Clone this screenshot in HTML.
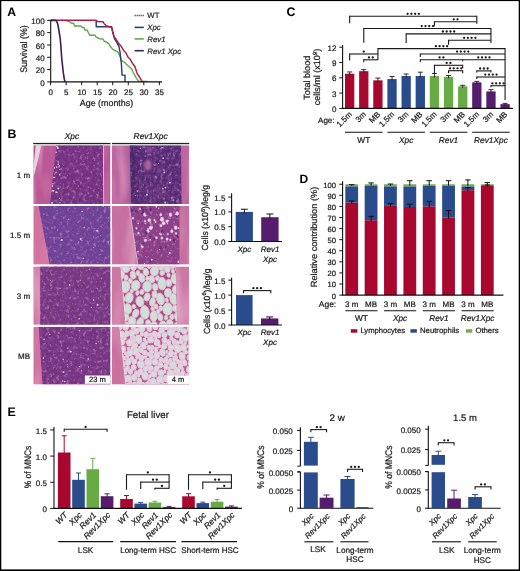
<!DOCTYPE html>
<html><head><meta charset="utf-8"><style>
html,body{margin:0;padding:0;background:#fff;}
body{width:520px;height:571px;overflow:hidden;}
svg{display:block;font-family:"Liberation Sans", sans-serif;text-rendering:geometricPrecision;will-change:transform;}
</style></head><body>
<svg width="520" height="571" viewBox="0 0 520 571" font-family='"Liberation Sans", sans-serif'>
<defs><clipPath id="c00"><rect x="33.3" y="145.3" width="77.2" height="58.7"/></clipPath><clipPath id="c10"><rect x="112" y="145.3" width="77.2" height="58.7"/></clipPath><clipPath id="c01"><rect x="33.3" y="206" width="77.2" height="58.6"/></clipPath><clipPath id="c11"><rect x="112" y="206" width="77.2" height="58.6"/></clipPath><clipPath id="c02"><rect x="33.3" y="266.5" width="77.2" height="58.3"/></clipPath><clipPath id="c12"><rect x="112" y="266.5" width="77.2" height="58.3"/></clipPath><clipPath id="c03"><rect x="33.3" y="326.8" width="77.2" height="57.8"/></clipPath><clipPath id="c13"><rect x="112" y="326.8" width="77.2" height="57.8"/></clipPath><filter id="nd" x="0" y="0" width="100%" height="100%" filterUnits="userSpaceOnUse"><feTurbulence type="fractalNoise" baseFrequency="0.28" numOctaves="2" seed="3" result="n"/><feColorMatrix in="n" type="matrix" values="0 0 0 0 0.216 0 0 0 0 0.059 0 0 0 0 0.314 2.3 0 0 0 -0.98"/></filter><filter id="nl" x="0" y="0" width="100%" height="100%" filterUnits="userSpaceOnUse"><feTurbulence type="fractalNoise" baseFrequency="0.3" numOctaves="2" seed="9" result="n"/><feColorMatrix in="n" type="matrix" values="0 0 0 0 0.667 0 0 0 0 0.412 0 0 0 0 0.725 1.8 0 0 0 -0.99"/></filter><filter id="nw" x="0" y="0" width="100%" height="100%" filterUnits="userSpaceOnUse"><feTurbulence type="fractalNoise" baseFrequency="0.4" numOctaves="2" seed="21" result="n"/><feColorMatrix in="n" type="matrix" values="0 0 0 0 0.941 0 0 0 0 0.882 0 0 0 0 0.941 6.0 0 0 0 -4.7"/></filter><filter id="bs" x="0" y="0" width="100%" height="100%" filterUnits="userSpaceOnUse"><feTurbulence type="fractalNoise" baseFrequency="0.08 0.015" numOctaves="2" seed="4" result="n"/><feColorMatrix in="n" type="matrix" values="0 0 0 0 0.910 0 0 0 0 0.588 0 0 0 0 0.753 1.3 0 0 0 -0.62"/></filter><filter id="bd" x="0" y="0" width="100%" height="100%" filterUnits="userSpaceOnUse"><feTurbulence type="fractalNoise" baseFrequency="0.08 0.02" numOctaves="2" seed="8" result="n"/><feColorMatrix in="n" type="matrix" values="0 0 0 0 0.706 0 0 0 0 0.314 0 0 0 0 0.510 1.3 0 0 0 -0.62"/></filter><filter id="fm" x="0" y="0" width="100%" height="100%" filterUnits="userSpaceOnUse"><feTurbulence type="fractalNoise" baseFrequency="0.3" numOctaves="2" seed="13" result="n"/><feColorMatrix in="n" type="matrix" values="0 0 0 0 0.471 0 0 0 0 0.098 0 0 0 0 0.373 3.0 0 0 0 -1.25"/></filter><filter id="gb" x="-50%" y="-50%" width="200%" height="200%"><feGaussianBlur stdDeviation="1.3"/></filter><filter id="gb2" x="-50%" y="-50%" width="200%" height="200%"><feGaussianBlur stdDeviation="2.5"/></filter></defs><g clip-path="url(#c00)"><rect x="33.3" y="145.3" width="77.2" height="58.7" fill="#bb5896"/><rect x="33.3" y="145.3" width="77.2" height="58.7" filter="url(#bs)"/><rect x="33.3" y="145.3" width="77.2" height="58.7" filter="url(#bd)"/></g><g clip-path="url(#c00)"><polygon points="35.8,145.3 41.2,145.3 39.8,152 38.2,159 36,168 34.2,175 33.3,176 33.3,166 34.4,158" fill="#eadde6" opacity="0.92"/></g><g clip-path="url(#c00)"><clipPath id="c00m"><polygon points="56.4,145.3 103.3,145.3 103.6,204 50,204"/></clipPath><g clip-path="url(#c00m)"><rect x="48" y="145.3" width="57" height="58.7" fill="#74307c"/><rect x="48" y="145.3" width="57" height="58.7" filter="url(#nd)"/><rect x="48" y="145.3" width="57" height="58.7" filter="url(#nl)"/><rect x="48" y="145.3" width="57" height="58.7" filter="url(#nw)"/><circle cx="56.23" cy="192.12" r="0.97" fill="#f6eef6" opacity="0.8"/><circle cx="57.4" cy="147.68" r="0.71" fill="#f6eef6" opacity="0.8"/><circle cx="59.43" cy="198.25" r="0.51" fill="#f6eef6" opacity="0.8"/><circle cx="54.69" cy="177.54" r="0.77" fill="#f6eef6" opacity="0.8"/><circle cx="50.13" cy="162.21" r="0.95" fill="#f6eef6" opacity="0.8"/><circle cx="57.66" cy="192.23" r="0.53" fill="#f6eef6" opacity="0.8"/><circle cx="56.17" cy="146.1" r="0.93" fill="#f6eef6" opacity="0.8"/><circle cx="52.09" cy="202.98" r="0.93" fill="#f6eef6" opacity="0.8"/><circle cx="52.89" cy="177.27" r="0.82" fill="#f6eef6" opacity="0.8"/><circle cx="52.05" cy="186.06" r="0.98" fill="#f6eef6" opacity="0.8"/><circle cx="58.94" cy="166.95" r="0.54" fill="#f6eef6" opacity="0.8"/><circle cx="51.46" cy="163.48" r="0.78" fill="#f6eef6" opacity="0.8"/><circle cx="50.03" cy="165.6" r="0.62" fill="#f6eef6" opacity="0.8"/><circle cx="58.19" cy="164.32" r="0.71" fill="#f6eef6" opacity="0.8"/><circle cx="57.05" cy="202.56" r="0.46" fill="#f6eef6" opacity="0.8"/><circle cx="57.5" cy="147.05" r="0.88" fill="#f6eef6" opacity="0.8"/><circle cx="53.66" cy="146.53" r="0.48" fill="#f6eef6" opacity="0.8"/><circle cx="51.81" cy="157.4" r="0.87" fill="#f6eef6" opacity="0.8"/><circle cx="59.3" cy="165.97" r="0.65" fill="#f6eef6" opacity="0.8"/><circle cx="55.25" cy="152.27" r="0.86" fill="#f6eef6" opacity="0.8"/><circle cx="57.97" cy="148.12" r="0.97" fill="#f6eef6" opacity="0.8"/><circle cx="50.91" cy="181.43" r="0.95" fill="#f6eef6" opacity="0.8"/><circle cx="53.4" cy="177.62" r="0.62" fill="#f6eef6" opacity="0.8"/><circle cx="53.17" cy="150.54" r="0.53" fill="#f6eef6" opacity="0.8"/><circle cx="56.89" cy="155.37" r="0.48" fill="#f6eef6" opacity="0.8"/><circle cx="59.87" cy="169.54" r="0.58" fill="#f6eef6" opacity="0.8"/><circle cx="55.94" cy="172.43" r="0.68" fill="#f6eef6" opacity="0.8"/><circle cx="50.56" cy="147.9" r="0.72" fill="#f6eef6" opacity="0.8"/><circle cx="58.38" cy="188.44" r="0.97" fill="#f6eef6" opacity="0.8"/><circle cx="56.3" cy="152.18" r="0.69" fill="#f6eef6" opacity="0.8"/><circle cx="51.49" cy="163.1" r="0.7" fill="#f6eef6" opacity="0.8"/><circle cx="59.99" cy="202.61" r="0.7" fill="#f6eef6" opacity="0.8"/><circle cx="54.88" cy="173.78" r="0.61" fill="#f6eef6" opacity="0.8"/><circle cx="54.04" cy="167.87" r="0.99" fill="#f6eef6" opacity="0.8"/><circle cx="59.6" cy="174.96" r="0.64" fill="#f6eef6" opacity="0.8"/><circle cx="50.89" cy="191.36" r="0.93" fill="#f6eef6" opacity="0.8"/><circle cx="53.61" cy="190.94" r="0.83" fill="#f6eef6" opacity="0.8"/><circle cx="56.64" cy="167.08" r="0.84" fill="#f6eef6" opacity="0.8"/><circle cx="52.81" cy="190.65" r="0.83" fill="#f6eef6" opacity="0.8"/><circle cx="52.94" cy="183.68" r="0.77" fill="#f6eef6" opacity="0.8"/></g></g><g clip-path="url(#c00)"><line x1="103.4" y1="145.3" x2="103.7" y2="204.0" stroke="#efd2e6" stroke-width="0.8"/></g><g clip-path="url(#c10)"><rect x="112" y="145.3" width="77.2" height="58.7" fill="#bd66a0"/><rect x="112" y="145.3" width="77.2" height="58.7" filter="url(#bs)"/><rect x="112" y="145.3" width="77.2" height="58.7" filter="url(#bd)"/></g><g clip-path="url(#c10)"><clipPath id="c10m"><polygon points="129.7,145.3 181,145.3 181.5,204 131.3,204"/></clipPath><g clip-path="url(#c10m)"><rect x="128" y="145.3" width="54" height="58.7" fill="#552a70"/><rect x="128" y="145.3" width="54" height="58.7" filter="url(#nd)"/><rect x="128" y="145.3" width="54" height="58.7" filter="url(#nl)"/><rect x="128" y="145.3" width="54" height="58.7" filter="url(#nw)"/><circle cx="128.63" cy="177.41" r="0.59" fill="#f6eef6" opacity="0.8"/><circle cx="164.27" cy="172.47" r="0.9" fill="#f6eef6" opacity="0.8"/><circle cx="162.96" cy="192.12" r="0.64" fill="#f6eef6" opacity="0.8"/><circle cx="162.78" cy="188.61" r="0.91" fill="#f6eef6" opacity="0.8"/><circle cx="146.9" cy="194.78" r="0.93" fill="#f6eef6" opacity="0.8"/><circle cx="165.17" cy="202.6" r="0.98" fill="#f6eef6" opacity="0.8"/><circle cx="155.98" cy="176.37" r="0.54" fill="#f6eef6" opacity="0.8"/><circle cx="173.18" cy="200.32" r="0.71" fill="#f6eef6" opacity="0.8"/><circle cx="165.34" cy="187.55" r="0.85" fill="#f6eef6" opacity="0.8"/><circle cx="137.28" cy="191.11" r="0.77" fill="#f6eef6" opacity="0.8"/><circle cx="163.94" cy="170" r="0.79" fill="#f6eef6" opacity="0.8"/><circle cx="169.83" cy="182.68" r="0.85" fill="#f6eef6" opacity="0.8"/><circle cx="129.49" cy="154.69" r="0.69" fill="#f6eef6" opacity="0.8"/><circle cx="163.11" cy="158.16" r="0.83" fill="#f6eef6" opacity="0.8"/><circle cx="162.07" cy="147.76" r="0.71" fill="#f6eef6" opacity="0.8"/><circle cx="140.22" cy="148.48" r="0.52" fill="#f6eef6" opacity="0.8"/><circle cx="145.14" cy="155.96" r="0.56" fill="#f6eef6" opacity="0.8"/><circle cx="129.93" cy="172.61" r="0.66" fill="#f6eef6" opacity="0.8"/></g></g><g clip-path="url(#c10)"><g filter="url(#gb2)"><ellipse cx="160" cy="193" rx="7" ry="6" fill="#7a3f88" opacity="0.45"/><rect x="130" y="146" width="5" height="58" fill="#3c1f5c" opacity="0.55"/></g><g filter="url(#gb)"><ellipse cx="148" cy="165" rx="4.6" ry="6.8" fill="#3b1d55" opacity="0.7"/><ellipse cx="148" cy="165" rx="3.6" ry="5.6" fill="#b06aa2" opacity="0.9"/><ellipse cx="150" cy="150" rx="3" ry="2.5" fill="#a8609c" opacity="0.6"/></g></g><g clip-path="url(#c01)"><rect x="33.3" y="206" width="77.2" height="58.6" fill="#d2729f"/><rect x="33.3" y="206" width="77.2" height="58.6" filter="url(#bs)"/><rect x="33.3" y="206" width="77.2" height="58.6" filter="url(#bd)"/></g><g clip-path="url(#c01)"><clipPath id="c01m"><polygon points="38.7,206 110.5,206 110.5,264.6 49.7,264.6"/></clipPath><g clip-path="url(#c01m)"><rect x="37" y="206" width="73.5" height="58.6" fill="#6c4296"/><rect x="37" y="206" width="73.5" height="58.6" filter="url(#nd)"/><rect x="37" y="206" width="73.5" height="58.6" filter="url(#nl)"/><rect x="37" y="206" width="73.5" height="58.6" filter="url(#nw)"/><circle cx="81.97" cy="240.58" r="0.58" fill="#f6eef6" opacity="0.8"/><circle cx="103.38" cy="206.04" r="0.67" fill="#f6eef6" opacity="0.8"/><circle cx="57.47" cy="230.03" r="0.51" fill="#f6eef6" opacity="0.8"/><circle cx="98.11" cy="227.91" r="0.47" fill="#f6eef6" opacity="0.8"/><circle cx="82.1" cy="211.56" r="0.75" fill="#f6eef6" opacity="0.8"/><circle cx="61.94" cy="240.04" r="0.98" fill="#f6eef6" opacity="0.8"/><circle cx="97.16" cy="230.56" r="0.9" fill="#f6eef6" opacity="0.8"/><circle cx="84.21" cy="227.65" r="0.53" fill="#f6eef6" opacity="0.8"/><circle cx="80.8" cy="239.04" r="0.98" fill="#f6eef6" opacity="0.8"/><circle cx="108.15" cy="241.66" r="0.64" fill="#f6eef6" opacity="0.8"/><circle cx="102.67" cy="206.06" r="0.51" fill="#f6eef6" opacity="0.8"/><circle cx="78.59" cy="242.05" r="0.53" fill="#f6eef6" opacity="0.8"/><circle cx="83.27" cy="258.23" r="0.66" fill="#f6eef6" opacity="0.8"/><circle cx="68.73" cy="219.26" r="0.61" fill="#f6eef6" opacity="0.8"/></g></g><g clip-path="url(#c11)"><rect x="112" y="206" width="77.2" height="58.6" fill="#c7709f"/><rect x="112" y="206" width="77.2" height="58.6" filter="url(#bs)"/><rect x="112" y="206" width="77.2" height="58.6" filter="url(#bd)"/></g><g clip-path="url(#c11)"><clipPath id="c11m"><polygon points="129,206 179.4,206 179.4,264.6 137.6,264.6"/></clipPath><g clip-path="url(#c11m)"><rect x="128" y="206" width="52" height="58.6" fill="#8e3e82"/><rect x="128" y="206" width="52" height="58.6" filter="url(#nd)"/><rect x="128" y="206" width="52" height="58.6" filter="url(#nl)"/><rect x="128" y="206" width="52" height="58.6" filter="url(#nw)"/><circle cx="178.57" cy="228.26" r="0.98" fill="#f6eef6" opacity="0.8"/><circle cx="175.51" cy="240.91" r="0.59" fill="#f6eef6" opacity="0.8"/><circle cx="179.01" cy="235.08" r="0.68" fill="#f6eef6" opacity="0.8"/><circle cx="144.6" cy="263.68" r="0.72" fill="#f6eef6" opacity="0.8"/><circle cx="142.89" cy="233.95" r="0.52" fill="#f6eef6" opacity="0.8"/><circle cx="160.33" cy="231.99" r="0.61" fill="#f6eef6" opacity="0.8"/><circle cx="168.65" cy="254.45" r="0.46" fill="#f6eef6" opacity="0.8"/><circle cx="155.69" cy="222.04" r="0.96" fill="#f6eef6" opacity="0.8"/><circle cx="168.66" cy="220.4" r="0.6" fill="#f6eef6" opacity="0.8"/><circle cx="136.05" cy="263.95" r="0.61" fill="#f6eef6" opacity="0.8"/><circle cx="159.62" cy="233.81" r="0.8" fill="#f6eef6" opacity="0.8"/><circle cx="159.4" cy="249.57" r="0.51" fill="#f6eef6" opacity="0.8"/><circle cx="167.54" cy="223.62" r="0.74" fill="#f6eef6" opacity="0.8"/><circle cx="145.48" cy="223.39" r="0.74" fill="#f6eef6" opacity="0.8"/><circle cx="152.15" cy="227.16" r="0.86" fill="#f6eef6" opacity="0.8"/><circle cx="158.72" cy="208.13" r="0.59" fill="#f6eef6" opacity="0.8"/><circle cx="151.69" cy="259.71" r="0.94" fill="#f6eef6" opacity="0.8"/><circle cx="156.37" cy="206.85" r="0.88" fill="#f6eef6" opacity="0.8"/><circle cx="150.24" cy="239.73" r="0.84" fill="#f6eef6" opacity="0.8"/><circle cx="160.88" cy="234.24" r="0.95" fill="#f6eef6" opacity="0.8"/><circle cx="148.04" cy="228.96" r="0.92" fill="#f6eef6" opacity="0.8"/><circle cx="138.22" cy="223.37" r="0.91" fill="#f6eef6" opacity="0.8"/><circle cx="131.43" cy="255.01" r="0.83" fill="#f6eef6" opacity="0.8"/><circle cx="150.51" cy="222.78" r="0.88" fill="#f6eef6" opacity="0.8"/><circle cx="175.36" cy="214.36" r="0.71" fill="#f6eef6" opacity="0.8"/></g></g><g clip-path="url(#c11m)"><ellipse cx="156.48" cy="237.75" rx="1.16" ry="1.24" fill="#f2dcef" stroke="#d9a6cf" stroke-width="0.4"/><ellipse cx="170.31" cy="239.81" rx="0.88" ry="0.96" fill="#f2dcef" stroke="#d9a6cf" stroke-width="0.4"/><ellipse cx="169.83" cy="252.9" rx="0.83" ry="1.07" fill="#f2dcef" stroke="#d9a6cf" stroke-width="0.4"/><ellipse cx="178.43" cy="261.81" rx="0.85" ry="1.14" fill="#f2dcef" stroke="#d9a6cf" stroke-width="0.4"/><ellipse cx="162.01" cy="219.28" rx="1.85" ry="2.37" fill="#f2dcef" stroke="#d9a6cf" stroke-width="0.4"/><ellipse cx="145.07" cy="214.54" rx="1.81" ry="1.92" fill="#f2dcef" stroke="#d9a6cf" stroke-width="0.4"/><ellipse cx="136.52" cy="228.24" rx="0.86" ry="1.06" fill="#f2dcef" stroke="#d9a6cf" stroke-width="0.4"/><ellipse cx="147.79" cy="231.17" rx="1.46" ry="1.75" fill="#f2dcef" stroke="#d9a6cf" stroke-width="0.4"/><ellipse cx="142.32" cy="246.05" rx="1.36" ry="1.85" fill="#f2dcef" stroke="#d9a6cf" stroke-width="0.4"/><ellipse cx="161.9" cy="238.07" rx="1.09" ry="1.33" fill="#f2dcef" stroke="#d9a6cf" stroke-width="0.4"/><ellipse cx="166.96" cy="221.23" rx="1.37" ry="1.44" fill="#f2dcef" stroke="#d9a6cf" stroke-width="0.4"/><ellipse cx="149.31" cy="220.13" rx="1.61" ry="1.73" fill="#f2dcef" stroke="#d9a6cf" stroke-width="0.4"/><ellipse cx="145.4" cy="240.26" rx="1.33" ry="1.5" fill="#f2dcef" stroke="#d9a6cf" stroke-width="0.4"/><ellipse cx="137.92" cy="251.6" rx="0.86" ry="0.91" fill="#f2dcef" stroke="#d9a6cf" stroke-width="0.4"/><ellipse cx="177.21" cy="213.5" rx="1.53" ry="2.03" fill="#f2dcef" stroke="#d9a6cf" stroke-width="0.4"/><ellipse cx="160.79" cy="214.83" rx="1.19" ry="1.3" fill="#f2dcef" stroke="#d9a6cf" stroke-width="0.4"/><ellipse cx="160.88" cy="225.66" rx="1.18" ry="1.37" fill="#f2dcef" stroke="#d9a6cf" stroke-width="0.4"/><ellipse cx="170.52" cy="214.64" rx="1.51" ry="2" fill="#f2dcef" stroke="#d9a6cf" stroke-width="0.4"/><ellipse cx="171.85" cy="231.27" rx="1.37" ry="1.69" fill="#f2dcef" stroke="#d9a6cf" stroke-width="0.4"/><ellipse cx="167.16" cy="239.1" rx="1.24" ry="1.28" fill="#f2dcef" stroke="#d9a6cf" stroke-width="0.4"/><ellipse cx="140.15" cy="208.86" rx="0.84" ry="1.14" fill="#f2dcef" stroke="#d9a6cf" stroke-width="0.4"/><ellipse cx="167.86" cy="233.94" rx="0.8" ry="0.95" fill="#f2dcef" stroke="#d9a6cf" stroke-width="0.4"/><ellipse cx="138.41" cy="233.07" rx="0.97" ry="1.03" fill="#f2dcef" stroke="#d9a6cf" stroke-width="0.4"/><ellipse cx="150.69" cy="227.98" rx="1.77" ry="1.88" fill="#f2dcef" stroke="#d9a6cf" stroke-width="0.4"/><ellipse cx="145.07" cy="221.23" rx="0.98" ry="1.09" fill="#f2dcef" stroke="#d9a6cf" stroke-width="0.4"/><ellipse cx="154.46" cy="220.17" rx="0.84" ry="1.14" fill="#f2dcef" stroke="#d9a6cf" stroke-width="0.4"/><ellipse cx="175.69" cy="227.66" rx="1.56" ry="1.98" fill="#f2dcef" stroke="#d9a6cf" stroke-width="0.4"/><ellipse cx="176.07" cy="233.42" rx="0.93" ry="1.18" fill="#f2dcef" stroke="#d9a6cf" stroke-width="0.4"/><ellipse cx="163.54" cy="223.3" rx="1.6" ry="1.71" fill="#f2dcef" stroke="#d9a6cf" stroke-width="0.4"/><ellipse cx="132.96" cy="218.26" rx="1.05" ry="1.09" fill="#f2dcef" stroke="#d9a6cf" stroke-width="0.4"/><circle cx="150.45" cy="261.52" r="1.09" fill="#4a1d66" opacity="0.55"/><circle cx="146.34" cy="233.21" r="1.03" fill="#4a1d66" opacity="0.55"/><circle cx="165.69" cy="247.2" r="0.93" fill="#4a1d66" opacity="0.55"/><circle cx="143.06" cy="244.64" r="1.55" fill="#4a1d66" opacity="0.55"/><circle cx="161.71" cy="231.12" r="1.58" fill="#4a1d66" opacity="0.55"/><circle cx="132.29" cy="210.41" r="1.42" fill="#4a1d66" opacity="0.55"/><circle cx="150.87" cy="209.52" r="1.24" fill="#4a1d66" opacity="0.55"/><circle cx="177.52" cy="236.06" r="1.08" fill="#4a1d66" opacity="0.55"/><circle cx="136.32" cy="210.99" r="1.52" fill="#4a1d66" opacity="0.55"/><circle cx="154.59" cy="259.4" r="0.84" fill="#4a1d66" opacity="0.55"/><circle cx="143.2" cy="209.83" r="1.12" fill="#4a1d66" opacity="0.55"/><circle cx="134.77" cy="221.3" r="1.13" fill="#4a1d66" opacity="0.55"/><circle cx="146.07" cy="209.88" r="0.83" fill="#4a1d66" opacity="0.55"/><circle cx="176.69" cy="217.05" r="1.21" fill="#4a1d66" opacity="0.55"/><circle cx="150.51" cy="236.75" r="0.87" fill="#4a1d66" opacity="0.55"/><circle cx="146.44" cy="213.05" r="1.23" fill="#4a1d66" opacity="0.55"/><circle cx="174.38" cy="240.5" r="1.49" fill="#4a1d66" opacity="0.55"/><circle cx="141.86" cy="207.97" r="1.23" fill="#4a1d66" opacity="0.55"/><circle cx="154.38" cy="239" r="1.1" fill="#4a1d66" opacity="0.55"/><circle cx="160.75" cy="247.64" r="1.53" fill="#4a1d66" opacity="0.55"/><circle cx="146.15" cy="232.15" r="1.46" fill="#4a1d66" opacity="0.55"/><circle cx="142.3" cy="213.48" r="1.05" fill="#4a1d66" opacity="0.55"/><circle cx="136.03" cy="250.25" r="1.46" fill="#4a1d66" opacity="0.55"/><circle cx="146.39" cy="214.27" r="0.87" fill="#4a1d66" opacity="0.55"/><circle cx="143.26" cy="211.72" r="1.14" fill="#4a1d66" opacity="0.55"/></g><g clip-path="url(#c11)"><line x1="129.2" y1="206.0" x2="137.8" y2="264.6" stroke="#f1d9ea" stroke-width="0.7"/></g><g clip-path="url(#c02)"><rect x="33.3" y="266.5" width="77.2" height="58.3" fill="#d2769f"/><rect x="33.3" y="266.5" width="77.2" height="58.3" filter="url(#bs)"/><rect x="33.3" y="266.5" width="77.2" height="58.3" filter="url(#bd)"/></g><g clip-path="url(#c02)"><clipPath id="c02m"><polygon points="40.2,266.5 110.5,266.5 110.5,324.8 40.2,324.8"/></clipPath><g clip-path="url(#c02m)"><rect x="40" y="266.5" width="70.5" height="58.3" fill="#78367f"/><rect x="40" y="266.5" width="70.5" height="58.3" filter="url(#nd)"/><rect x="40" y="266.5" width="70.5" height="58.3" filter="url(#nl)"/><rect x="40" y="266.5" width="70.5" height="58.3" filter="url(#nw)"/><circle cx="80.68" cy="280.81" r="0.48" fill="#f6eef6" opacity="0.8"/><circle cx="89.39" cy="269.3" r="0.56" fill="#f6eef6" opacity="0.8"/><circle cx="60.16" cy="288.29" r="0.5" fill="#f6eef6" opacity="0.8"/><circle cx="69.65" cy="284.8" r="0.86" fill="#f6eef6" opacity="0.8"/><circle cx="79.2" cy="318.74" r="0.81" fill="#f6eef6" opacity="0.8"/><circle cx="93.56" cy="300.01" r="0.69" fill="#f6eef6" opacity="0.8"/><circle cx="97.58" cy="304.71" r="0.98" fill="#f6eef6" opacity="0.8"/><circle cx="91.33" cy="307.38" r="0.6" fill="#f6eef6" opacity="0.8"/><circle cx="97.25" cy="288.79" r="0.52" fill="#f6eef6" opacity="0.8"/></g></g><g clip-path="url(#c12)"><rect x="112" y="266.5" width="77.2" height="58.3" fill="#cb78a2"/><rect x="112" y="266.5" width="77.2" height="58.3" filter="url(#bs)"/><rect x="112" y="266.5" width="77.2" height="58.3" filter="url(#bd)"/></g><g clip-path="url(#c12)"><clipPath id="c12f"><polygon points="120.5,266.5 175.5,266.5 177.3,324.8 125.7,324.8"/></clipPath><g clip-path="url(#c12f)"><rect x="119" y="266.5" width="59" height="58.3" fill="#ad4785"/><rect x="119" y="266.5" width="59" height="58.3" filter="url(#fm)"/><ellipse cx="121.15" cy="275.05" rx="3.32" ry="4.19" transform="rotate(17.84 121.15 275.05)" fill="#d0e0d9" stroke="#e6b8d1" stroke-width="0.8"/><ellipse cx="121" cy="312.08" rx="3.26" ry="4.6" transform="rotate(-1.51 121 312.08)" fill="#d0e0d9" stroke="#e6b8d1" stroke-width="0.8"/><ellipse cx="125.2" cy="286.75" rx="4.75" ry="6.09" transform="rotate(7.33 125.2 286.75)" fill="#d0e0d9" stroke="#e6b8d1" stroke-width="0.8"/><ellipse cx="153.82" cy="316.02" rx="3.6" ry="5.63" transform="rotate(2.67 153.82 316.02)" fill="#d0e0d9" stroke="#e6b8d1" stroke-width="0.8"/><ellipse cx="127.79" cy="308.7" rx="3.91" ry="5.24" transform="rotate(-12.88 127.79 308.7)" fill="#d0e0d9" stroke="#e6b8d1" stroke-width="0.8"/><ellipse cx="144.81" cy="312.32" rx="4.43" ry="6.82" transform="rotate(-5.45 144.81 312.32)" fill="#d0e0d9" stroke="#e6b8d1" stroke-width="0.8"/><ellipse cx="154.55" cy="270.95" rx="4.09" ry="5.18" transform="rotate(9.15 154.55 270.95)" fill="#d0e0d9" stroke="#e6b8d1" stroke-width="0.8"/><ellipse cx="178.61" cy="266.55" rx="3.73" ry="5.7" transform="rotate(9.33 178.61 266.55)" fill="#d0e0d9" stroke="#e6b8d1" stroke-width="0.8"/><ellipse cx="141.74" cy="277.93" rx="2.96" ry="4.53" transform="rotate(-13.99 141.74 277.93)" fill="#d0e0d9" stroke="#e6b8d1" stroke-width="0.8"/><ellipse cx="178.89" cy="316.85" rx="4.37" ry="5.76" transform="rotate(-12.69 178.89 316.85)" fill="#d0e0d9" stroke="#e6b8d1" stroke-width="0.8"/><ellipse cx="140.72" cy="265.13" rx="3.71" ry="4.66" transform="rotate(-7.12 140.72 265.13)" fill="#d0e0d9" stroke="#e6b8d1" stroke-width="0.8"/><ellipse cx="139.86" cy="301.48" rx="3.95" ry="5.19" transform="rotate(-12.9 139.86 301.48)" fill="#d0e0d9" stroke="#e6b8d1" stroke-width="0.8"/><ellipse cx="162.01" cy="283.61" rx="4.13" ry="6.42" transform="rotate(-2.4 162.01 283.61)" fill="#d0e0d9" stroke="#e6b8d1" stroke-width="0.8"/><ellipse cx="160.39" cy="298.98" rx="3.87" ry="6.09" transform="rotate(-13.75 160.39 298.98)" fill="#d0e0d9" stroke="#e6b8d1" stroke-width="0.8"/><ellipse cx="152.44" cy="302.09" rx="2.8" ry="4.33" transform="rotate(11.11 152.44 302.09)" fill="#d0e0d9" stroke="#e6b8d1" stroke-width="0.8"/><ellipse cx="169.58" cy="324.13" rx="3.57" ry="4.73" transform="rotate(1.42 169.58 324.13)" fill="#d0e0d9" stroke="#e6b8d1" stroke-width="0.8"/><ellipse cx="175.38" cy="278.77" rx="4.31" ry="5.49" transform="rotate(-4.25 175.38 278.77)" fill="#d0e0d9" stroke="#e6b8d1" stroke-width="0.8"/><ellipse cx="167.63" cy="308.93" rx="4.88" ry="6.27" transform="rotate(1.69 167.63 308.93)" fill="#d0e0d9" stroke="#e6b8d1" stroke-width="0.8"/><ellipse cx="147.18" cy="286.56" rx="4.47" ry="5.46" transform="rotate(5.23 147.18 286.56)" fill="#d0e0d9" stroke="#e6b8d1" stroke-width="0.8"/><ellipse cx="135.65" cy="285.49" rx="4.26" ry="5.25" transform="rotate(16.11 135.65 285.49)" fill="#d0e0d9" stroke="#e6b8d1" stroke-width="0.8"/><ellipse cx="131.9" cy="321.83" rx="3.87" ry="5.65" transform="rotate(5.93 131.9 321.83)" fill="#d0e0d9" stroke="#e6b8d1" stroke-width="0.8"/><ellipse cx="166.95" cy="267.99" rx="3.18" ry="4.88" transform="rotate(-9.15 166.95 267.99)" fill="#d0e0d9" stroke="#e6b8d1" stroke-width="0.8"/><ellipse cx="125.65" cy="267.74" rx="4.1" ry="4.95" transform="rotate(-18.59 125.65 267.74)" fill="#d0e0d9" stroke="#e6b8d1" stroke-width="0.8"/><ellipse cx="173.71" cy="299.1" rx="3.82" ry="5.81" transform="rotate(-14.23 173.71 299.1)" fill="#d0e0d9" stroke="#e6b8d1" stroke-width="0.8"/><ellipse cx="118.69" cy="299.7" rx="2.9" ry="4.51" transform="rotate(18.7 118.69 299.7)" fill="#d0e0d9" stroke="#e6b8d1" stroke-width="0.8"/><ellipse cx="120.38" cy="323" rx="3.49" ry="5.44" transform="rotate(-10.64 120.38 323)" fill="#d0e0d9" stroke="#e6b8d1" stroke-width="0.8"/><ellipse cx="147.03" cy="297.01" rx="2.96" ry="4.08" transform="rotate(16.03 147.03 297.01)" fill="#d0e0d9" stroke="#e6b8d1" stroke-width="0.8"/><ellipse cx="129.1" cy="297.74" rx="4.08" ry="5.3" transform="rotate(11.69 129.1 297.74)" fill="#d0e0d9" stroke="#e6b8d1" stroke-width="0.8"/><ellipse cx="155.15" cy="287.08" rx="2.8" ry="3.63" transform="rotate(-13.7 155.15 287.08)" fill="#d0e0d9" stroke="#e6b8d1" stroke-width="0.8"/><ellipse cx="175.71" cy="289.54" rx="3.26" ry="4.34" transform="rotate(5.06 175.71 289.54)" fill="#d0e0d9" stroke="#e6b8d1" stroke-width="0.8"/><ellipse cx="133.07" cy="275.03" rx="2.84" ry="4.09" transform="rotate(-12 133.07 275.03)" fill="#d0e0d9" stroke="#e6b8d1" stroke-width="0.8"/><ellipse cx="145.83" cy="271.99" rx="2.67" ry="3.84" transform="rotate(-13.66 145.83 271.99)" fill="#d0e0d9" stroke="#e6b8d1" stroke-width="0.8"/><ellipse cx="154.07" cy="325.83" rx="3.3" ry="4.27" transform="rotate(1.67 154.07 325.83)" fill="#d0e0d9" stroke="#e6b8d1" stroke-width="0.8"/><ellipse cx="117.08" cy="287.8" rx="3.16" ry="3.95" transform="rotate(-12.42 117.08 287.8)" fill="#d0e0d9" stroke="#e6b8d1" stroke-width="0.8"/><ellipse cx="139.94" cy="322.81" rx="3.28" ry="5.51" transform="rotate(18.31 139.94 322.81)" fill="#d0e0d9" stroke="#e6b8d1" stroke-width="0.8"/><ellipse cx="168.92" cy="283.02" rx="2.88" ry="3.81" transform="rotate(-0.41 168.92 283.02)" fill="#d0e0d9" stroke="#e6b8d1" stroke-width="0.8"/><ellipse cx="148.41" cy="324.05" rx="2.72" ry="4.44" transform="rotate(-11.06 148.41 324.05)" fill="#d0e0d9" stroke="#e6b8d1" stroke-width="0.8"/><ellipse cx="133.62" cy="266.29" rx="3.04" ry="4.36" transform="rotate(11.72 133.62 266.29)" fill="#d0e0d9" stroke="#e6b8d1" stroke-width="0.8"/><ellipse cx="162.71" cy="325.49" rx="3.5" ry="4.58" transform="rotate(5.39 162.71 325.49)" fill="#d0e0d9" stroke="#e6b8d1" stroke-width="0.8"/><ellipse cx="177.37" cy="326.41" rx="2.76" ry="4.21" transform="rotate(-19.6 177.37 326.41)" fill="#d0e0d9" stroke="#e6b8d1" stroke-width="0.8"/><ellipse cx="160.3" cy="317.2" rx="2.59" ry="3.69" transform="rotate(-10.96 160.3 317.2)" fill="#d0e0d9" stroke="#e6b8d1" stroke-width="0.8"/><ellipse cx="135.74" cy="313.39" rx="2.98" ry="4.28" transform="rotate(19.89 135.74 313.39)" fill="#d0e0d9" stroke="#e6b8d1" stroke-width="0.8"/><ellipse cx="117.44" cy="266.04" rx="2.83" ry="4.11" transform="rotate(-14.4 117.44 266.04)" fill="#d0e0d9" stroke="#e6b8d1" stroke-width="0.8"/><ellipse cx="168" cy="292.88" rx="3.5" ry="4.32" transform="rotate(-2.14 168 292.88)" fill="#d0e0d9" stroke="#e6b8d1" stroke-width="0.8"/><ellipse cx="151.72" cy="279.2" rx="2.86" ry="3.72" transform="rotate(-16.72 151.72 279.2)" fill="#d0e0d9" stroke="#e6b8d1" stroke-width="0.8"/><ellipse cx="126.09" cy="317.05" rx="3.02" ry="3.62" transform="rotate(2.11 126.09 317.05)" fill="#d0e0d9" stroke="#e6b8d1" stroke-width="0.8"/><ellipse cx="160.7" cy="266.09" rx="2.98" ry="4.59" transform="rotate(-14.88 160.7 266.09)" fill="#d0e0d9" stroke="#e6b8d1" stroke-width="0.8"/><ellipse cx="154.6" cy="294.45" rx="2.68" ry="3.78" transform="rotate(-3.88 154.6 294.45)" fill="#d0e0d9" stroke="#e6b8d1" stroke-width="0.8"/><ellipse cx="172.29" cy="264.75" rx="2.6" ry="3.91" transform="rotate(3.55 172.29 264.75)" fill="#d0e0d9" stroke="#e6b8d1" stroke-width="0.8"/><ellipse cx="152.7" cy="308.68" rx="1.84" ry="2.05" transform="rotate(-2.65 152.7 308.68)" fill="#d0e0d9" stroke="#e6b8d1" stroke-width="0.8"/><ellipse cx="138.05" cy="273.14" rx="1.98" ry="2.76" transform="rotate(-1.42 138.05 273.14)" fill="#d0e0d9" stroke="#e6b8d1" stroke-width="0.8"/><ellipse cx="175.21" cy="308.28" rx="2.79" ry="3.37" transform="rotate(-5.52 175.21 308.28)" fill="#d0e0d9" stroke="#e6b8d1" stroke-width="0.8"/><ellipse cx="160.91" cy="308.33" rx="2" ry="2.55" transform="rotate(-15.24 160.91 308.33)" fill="#d0e0d9" stroke="#e6b8d1" stroke-width="0.8"/><ellipse cx="126.05" cy="277.84" rx="2.16" ry="2.94" transform="rotate(-1.3 126.05 277.84)" fill="#d0e0d9" stroke="#e6b8d1" stroke-width="0.8"/><ellipse cx="130.42" cy="280.77" rx="1.96" ry="2.7" transform="rotate(-3.9 130.42 280.77)" fill="#d0e0d9" stroke="#e6b8d1" stroke-width="0.8"/><ellipse cx="148.89" cy="265.89" rx="1.96" ry="2.63" transform="rotate(-11.96 148.89 265.89)" fill="#d0e0d9" stroke="#e6b8d1" stroke-width="0.8"/><ellipse cx="141.83" cy="292.06" rx="2.15" ry="2.58" transform="rotate(9.23 141.83 292.06)" fill="#d0e0d9" stroke="#e6b8d1" stroke-width="0.8"/><ellipse cx="158.15" cy="311.64" rx="1.79" ry="2.61" transform="rotate(19.96 158.15 311.64)" fill="#d0e0d9" stroke="#e6b8d1" stroke-width="0.8"/><ellipse cx="172.94" cy="271.23" rx="1.58" ry="2.31" transform="rotate(-10.1 172.94 271.23)" fill="#d0e0d9" stroke="#e6b8d1" stroke-width="0.8"/><ellipse cx="179.27" cy="303.77" rx="2.09" ry="2.86" transform="rotate(-14.97 179.27 303.77)" fill="#d0e0d9" stroke="#e6b8d1" stroke-width="0.8"/><ellipse cx="131.78" cy="290.97" rx="1.71" ry="2.06" transform="rotate(1.4 131.78 290.97)" fill="#d0e0d9" stroke="#e6b8d1" stroke-width="0.8"/><ellipse cx="123.59" cy="298.93" rx="1.53" ry="2.45" transform="rotate(5.26 123.59 298.93)" fill="#d0e0d9" stroke="#e6b8d1" stroke-width="0.8"/><ellipse cx="168.59" cy="275.17" rx="1.67" ry="2.13" transform="rotate(-9.95 168.59 275.17)" fill="#d0e0d9" stroke="#e6b8d1" stroke-width="0.8"/><ellipse cx="133.76" cy="306.48" rx="1.88" ry="2.18" transform="rotate(-6.19 133.76 306.48)" fill="#d0e0d9" stroke="#e6b8d1" stroke-width="0.8"/><ellipse cx="179.37" cy="295.05" rx="1.71" ry="2.71" transform="rotate(16.22 179.37 295.05)" fill="#d0e0d9" stroke="#e6b8d1" stroke-width="0.8"/><ellipse cx="166.04" cy="317.66" rx="1.71" ry="2.56" transform="rotate(4.08 166.04 317.66)" fill="#d0e0d9" stroke="#e6b8d1" stroke-width="0.8"/><ellipse cx="171.86" cy="316.87" rx="2.04" ry="2.89" transform="rotate(8.62 171.86 316.87)" fill="#d0e0d9" stroke="#e6b8d1" stroke-width="0.8"/><ellipse cx="162.26" cy="272.9" rx="2.35" ry="2.62" transform="rotate(4.8 162.26 272.9)" fill="#d0e0d9" stroke="#e6b8d1" stroke-width="0.8"/><ellipse cx="137.38" cy="292.95" rx="1.61" ry="2.56" transform="rotate(8.87 137.38 292.95)" fill="#d0e0d9" stroke="#e6b8d1" stroke-width="0.8"/><ellipse cx="118.41" cy="281.5" rx="1.72" ry="2.14" transform="rotate(-9.34 118.41 281.5)" fill="#d0e0d9" stroke="#e6b8d1" stroke-width="0.8"/><ellipse cx="155.98" cy="306.49" rx="2.07" ry="2.66" transform="rotate(-2.86 155.98 306.49)" fill="#d0e0d9" stroke="#e6b8d1" stroke-width="0.8"/><ellipse cx="166.77" cy="300.06" rx="1.54" ry="2.19" transform="rotate(-16.72 166.77 300.06)" fill="#d0e0d9" stroke="#e6b8d1" stroke-width="0.8"/><ellipse cx="157.33" cy="278.26" rx="1.95" ry="2.59" transform="rotate(19.64 157.33 278.26)" fill="#d0e0d9" stroke="#e6b8d1" stroke-width="0.8"/><ellipse cx="126.36" cy="325.34" rx="2.23" ry="3.08" transform="rotate(10.18 126.36 325.34)" fill="#d0e0d9" stroke="#e6b8d1" stroke-width="0.8"/><ellipse cx="117.17" cy="317.43" rx="1.71" ry="2.1" transform="rotate(6.4 117.17 317.43)" fill="#d0e0d9" stroke="#e6b8d1" stroke-width="0.8"/><ellipse cx="147.4" cy="278.36" rx="1.75" ry="2.29" transform="rotate(12.1 147.4 278.36)" fill="#d0e0d9" stroke="#e6b8d1" stroke-width="0.8"/><ellipse cx="123.04" cy="305.23" rx="1.63" ry="2.73" transform="rotate(-14.1 123.04 305.23)" fill="#d0e0d9" stroke="#e6b8d1" stroke-width="0.8"/></g></g><g clip-path="url(#c12)"><line x1="120.8" y1="266.5" x2="126" y2="324.8" stroke="#f3e3ee" stroke-width="0.8"/></g><g clip-path="url(#c03)"><rect x="33.3" y="326.8" width="77.2" height="57.8" fill="#cf729f"/><rect x="33.3" y="326.8" width="77.2" height="57.8" filter="url(#bs)"/><rect x="33.3" y="326.8" width="77.2" height="57.8" filter="url(#bd)"/></g><g clip-path="url(#c03)"><clipPath id="c03m"><polygon points="38.7,326.8 110.5,326.8 110.5,384.6 42.6,384.6"/></clipPath><g clip-path="url(#c03m)"><rect x="38" y="326.8" width="72.5" height="57.8" fill="#76337e"/><rect x="38" y="326.8" width="72.5" height="57.8" filter="url(#nd)"/><rect x="38" y="326.8" width="72.5" height="57.8" filter="url(#nl)"/><rect x="38" y="326.8" width="72.5" height="57.8" filter="url(#nw)"/><circle cx="51.25" cy="375.98" r="0.6" fill="#f6eef6" opacity="0.8"/><circle cx="62.8" cy="380.99" r="0.69" fill="#f6eef6" opacity="0.8"/><circle cx="88.25" cy="359" r="0.86" fill="#f6eef6" opacity="0.8"/><circle cx="67.75" cy="348.06" r="0.65" fill="#f6eef6" opacity="0.8"/><circle cx="70.9" cy="351.66" r="0.85" fill="#f6eef6" opacity="0.8"/><circle cx="67.64" cy="366.76" r="0.5" fill="#f6eef6" opacity="0.8"/><circle cx="49.79" cy="334.29" r="0.64" fill="#f6eef6" opacity="0.8"/><circle cx="79.35" cy="366.58" r="0.68" fill="#f6eef6" opacity="0.8"/><circle cx="58.91" cy="332.92" r="0.63" fill="#f6eef6" opacity="0.8"/><circle cx="63.43" cy="372.1" r="0.93" fill="#f6eef6" opacity="0.8"/><circle cx="96.16" cy="343.45" r="0.81" fill="#f6eef6" opacity="0.8"/><circle cx="63.15" cy="359.2" r="0.79" fill="#f6eef6" opacity="0.8"/><circle cx="60.59" cy="351.34" r="0.45" fill="#f6eef6" opacity="0.8"/><circle cx="64.78" cy="381.61" r="0.79" fill="#f6eef6" opacity="0.8"/><circle cx="43.41" cy="358.1" r="0.82" fill="#f6eef6" opacity="0.8"/><circle cx="93.91" cy="349.69" r="0.55" fill="#f6eef6" opacity="0.8"/><circle cx="79.63" cy="330.63" r="0.55" fill="#f6eef6" opacity="0.8"/><circle cx="88.53" cy="366.94" r="0.62" fill="#f6eef6" opacity="0.8"/><circle cx="44.09" cy="339.24" r="0.82" fill="#f6eef6" opacity="0.8"/><circle cx="81.71" cy="370.22" r="0.52" fill="#f6eef6" opacity="0.8"/><circle cx="67.17" cy="364.7" r="0.5" fill="#f6eef6" opacity="0.8"/><circle cx="104.33" cy="382.94" r="0.68" fill="#f6eef6" opacity="0.8"/><circle cx="102" cy="366.67" r="0.47" fill="#f6eef6" opacity="0.8"/><circle cx="98.63" cy="341.77" r="0.6" fill="#f6eef6" opacity="0.8"/></g></g><g clip-path="url(#c13)"><rect x="112" y="326.8" width="77.2" height="57.8" fill="#cc709e"/><rect x="112" y="326.8" width="77.2" height="57.8" filter="url(#bs)"/><rect x="112" y="326.8" width="77.2" height="57.8" filter="url(#bd)"/></g><g clip-path="url(#c13)"><clipPath id="c13f"><polygon points="119.5,326.8 189.2,326.8 189.2,384.6 125.5,384.6"/></clipPath><g clip-path="url(#c13f)"><rect x="118" y="326.8" width="71.2" height="57.8" fill="#bb5a93"/><rect x="118" y="326.8" width="71.2" height="57.8" filter="url(#fm)"/><ellipse cx="122.3" cy="364.07" rx="2.74" ry="3.2" transform="rotate(-11.84 122.3 364.07)" fill="#d4dcdc" stroke="#ebc6dc" stroke-width="1"/><ellipse cx="157" cy="342.49" rx="2.84" ry="3.1" transform="rotate(-5.7 157 342.49)" fill="#d4dcdc" stroke="#ebc6dc" stroke-width="1"/><ellipse cx="183.67" cy="347.72" rx="2.62" ry="3.47" transform="rotate(-14.02 183.67 347.72)" fill="#d4dcdc" stroke="#ebc6dc" stroke-width="1"/><ellipse cx="176.9" cy="370.63" rx="2.98" ry="3.23" transform="rotate(15.29 176.9 370.63)" fill="#d4dcdc" stroke="#ebc6dc" stroke-width="1"/><ellipse cx="123.16" cy="349.33" rx="2.41" ry="3.36" transform="rotate(18.45 123.16 349.33)" fill="#d4dcdc" stroke="#ebc6dc" stroke-width="1"/><ellipse cx="160.99" cy="372.84" rx="2.95" ry="3.02" transform="rotate(-13.86 160.99 372.84)" fill="#d4dcdc" stroke="#ebc6dc" stroke-width="1"/><ellipse cx="116.7" cy="349.29" rx="2.26" ry="3.18" transform="rotate(6.52 116.7 349.29)" fill="#d4dcdc" stroke="#ebc6dc" stroke-width="1"/><ellipse cx="171.19" cy="332.08" rx="3.71" ry="3.92" transform="rotate(-5.89 171.19 332.08)" fill="#d4dcdc" stroke="#ebc6dc" stroke-width="1"/><ellipse cx="189.22" cy="369.3" rx="2.64" ry="3.57" transform="rotate(10.36 189.22 369.3)" fill="#d4dcdc" stroke="#ebc6dc" stroke-width="1"/><ellipse cx="170.96" cy="353.93" rx="2.48" ry="3.11" transform="rotate(15.08 170.96 353.93)" fill="#d4dcdc" stroke="#ebc6dc" stroke-width="1"/><ellipse cx="148.2" cy="362.22" rx="3.45" ry="3.81" transform="rotate(-5.46 148.2 362.22)" fill="#d4dcdc" stroke="#ebc6dc" stroke-width="1"/><ellipse cx="165.22" cy="360.31" rx="2.12" ry="2.89" transform="rotate(19.54 165.22 360.31)" fill="#d4dcdc" stroke="#ebc6dc" stroke-width="1"/><ellipse cx="133.2" cy="327.25" rx="2.2" ry="2.5" transform="rotate(6.11 133.2 327.25)" fill="#d4dcdc" stroke="#ebc6dc" stroke-width="1"/><ellipse cx="135.98" cy="351.79" rx="3.08" ry="3.44" transform="rotate(11.49 135.98 351.79)" fill="#d4dcdc" stroke="#ebc6dc" stroke-width="1"/><ellipse cx="164.47" cy="340.42" rx="2.4" ry="2.67" transform="rotate(-7.45 164.47 340.42)" fill="#d4dcdc" stroke="#ebc6dc" stroke-width="1"/><ellipse cx="189.36" cy="357.61" rx="2.28" ry="2.63" transform="rotate(-7.81 189.36 357.61)" fill="#d4dcdc" stroke="#ebc6dc" stroke-width="1"/><ellipse cx="155.98" cy="349.32" rx="1.95" ry="2.34" transform="rotate(12.13 155.98 349.32)" fill="#d4dcdc" stroke="#ebc6dc" stroke-width="1"/><ellipse cx="128.38" cy="378.56" rx="3.22" ry="3.43" transform="rotate(9.87 128.38 378.56)" fill="#d4dcdc" stroke="#ebc6dc" stroke-width="1"/><ellipse cx="174.13" cy="341.37" rx="2.02" ry="2.46" transform="rotate(-2.37 174.13 341.37)" fill="#d4dcdc" stroke="#ebc6dc" stroke-width="1"/><ellipse cx="127.19" cy="368.66" rx="2.08" ry="2.89" transform="rotate(13.25 127.19 368.66)" fill="#d4dcdc" stroke="#ebc6dc" stroke-width="1"/><ellipse cx="122.27" cy="341.68" rx="2.7" ry="3.08" transform="rotate(12.12 122.27 341.68)" fill="#d4dcdc" stroke="#ebc6dc" stroke-width="1"/><ellipse cx="152.99" cy="382" rx="3.12" ry="3.45" transform="rotate(-10.73 152.99 382)" fill="#d4dcdc" stroke="#ebc6dc" stroke-width="1"/><ellipse cx="140.46" cy="371.75" rx="2.36" ry="3.05" transform="rotate(12.47 140.46 371.75)" fill="#d4dcdc" stroke="#ebc6dc" stroke-width="1"/><ellipse cx="184.59" cy="362.65" rx="2.19" ry="3.13" transform="rotate(-18.76 184.59 362.65)" fill="#d4dcdc" stroke="#ebc6dc" stroke-width="1"/><ellipse cx="180.42" cy="366.18" rx="2.31" ry="2.8" transform="rotate(3.98 180.42 366.18)" fill="#d4dcdc" stroke="#ebc6dc" stroke-width="1"/><ellipse cx="153.87" cy="374.05" rx="2.94" ry="3.23" transform="rotate(-16.86 153.87 374.05)" fill="#d4dcdc" stroke="#ebc6dc" stroke-width="1"/><ellipse cx="172.94" cy="365.12" rx="3.35" ry="3.88" transform="rotate(-4.15 172.94 365.12)" fill="#d4dcdc" stroke="#ebc6dc" stroke-width="1"/><ellipse cx="168.62" cy="342.65" rx="2.03" ry="2.92" transform="rotate(-3.69 168.62 342.65)" fill="#d4dcdc" stroke="#ebc6dc" stroke-width="1"/><ellipse cx="138.64" cy="339.25" rx="3.14" ry="4.19" transform="rotate(-15.51 138.64 339.25)" fill="#d4dcdc" stroke="#ebc6dc" stroke-width="1"/><ellipse cx="122.38" cy="334.43" rx="2.35" ry="3.33" transform="rotate(-17.98 122.38 334.43)" fill="#d4dcdc" stroke="#ebc6dc" stroke-width="1"/><ellipse cx="130.04" cy="352.67" rx="2.92" ry="2.94" transform="rotate(2.64 130.04 352.67)" fill="#d4dcdc" stroke="#ebc6dc" stroke-width="1"/><ellipse cx="120.18" cy="372.53" rx="3.12" ry="3.39" transform="rotate(10.66 120.18 372.53)" fill="#d4dcdc" stroke="#ebc6dc" stroke-width="1"/><ellipse cx="155.08" cy="361.98" rx="2.92" ry="3.04" transform="rotate(-18.26 155.08 361.98)" fill="#d4dcdc" stroke="#ebc6dc" stroke-width="1"/><ellipse cx="131.61" cy="333.35" rx="2.42" ry="3.33" transform="rotate(-8.77 131.61 333.35)" fill="#d4dcdc" stroke="#ebc6dc" stroke-width="1"/><ellipse cx="141.55" cy="328.31" rx="3.33" ry="4.12" transform="rotate(13.09 141.55 328.31)" fill="#d4dcdc" stroke="#ebc6dc" stroke-width="1"/><ellipse cx="134.33" cy="385.23" rx="2.66" ry="3.31" transform="rotate(17.19 134.33 385.23)" fill="#d4dcdc" stroke="#ebc6dc" stroke-width="1"/><ellipse cx="182.09" cy="356.01" rx="2.98" ry="3.57" transform="rotate(-11.64 182.09 356.01)" fill="#d4dcdc" stroke="#ebc6dc" stroke-width="1"/><ellipse cx="177.19" cy="335.05" rx="2.26" ry="2.75" transform="rotate(11.91 177.19 335.05)" fill="#d4dcdc" stroke="#ebc6dc" stroke-width="1"/><ellipse cx="143.3" cy="345.86" rx="2.67" ry="3.27" transform="rotate(-11.42 143.3 345.86)" fill="#d4dcdc" stroke="#ebc6dc" stroke-width="1"/><ellipse cx="117.3" cy="325.23" rx="2.14" ry="2.46" transform="rotate(-3.03 117.3 325.23)" fill="#d4dcdc" stroke="#ebc6dc" stroke-width="1"/><ellipse cx="163.32" cy="385.1" rx="1.91" ry="2.3" transform="rotate(-7.34 163.32 385.1)" fill="#d4dcdc" stroke="#ebc6dc" stroke-width="1"/><ellipse cx="129.51" cy="342.72" rx="2.99" ry="3.14" transform="rotate(-17.44 129.51 342.72)" fill="#d4dcdc" stroke="#ebc6dc" stroke-width="1"/><ellipse cx="140.84" cy="364.41" rx="3.37" ry="3.92" transform="rotate(-18.2 140.84 364.41)" fill="#d4dcdc" stroke="#ebc6dc" stroke-width="1"/><ellipse cx="116.14" cy="342.17" rx="2.39" ry="3.13" transform="rotate(-9.14 116.14 342.17)" fill="#d4dcdc" stroke="#ebc6dc" stroke-width="1"/><ellipse cx="176.29" cy="386.02" rx="2.38" ry="2.58" transform="rotate(-11.14 176.29 386.02)" fill="#d4dcdc" stroke="#ebc6dc" stroke-width="1"/><ellipse cx="154.25" cy="334.03" rx="2.29" ry="2.72" transform="rotate(10.14 154.25 334.03)" fill="#d4dcdc" stroke="#ebc6dc" stroke-width="1"/><ellipse cx="139.37" cy="381.26" rx="2.3" ry="3.11" transform="rotate(-4.45 139.37 381.26)" fill="#d4dcdc" stroke="#ebc6dc" stroke-width="1"/><ellipse cx="149.05" cy="347.61" rx="1.94" ry="2.29" transform="rotate(-15.13 149.05 347.61)" fill="#d4dcdc" stroke="#ebc6dc" stroke-width="1"/><ellipse cx="144.63" cy="352.6" rx="2.07" ry="2.4" transform="rotate(17.98 144.63 352.6)" fill="#d4dcdc" stroke="#ebc6dc" stroke-width="1"/><ellipse cx="179.66" cy="328.58" rx="2.54" ry="3.2" transform="rotate(1.98 179.66 328.58)" fill="#d4dcdc" stroke="#ebc6dc" stroke-width="1"/><ellipse cx="133.65" cy="367.49" rx="2.49" ry="2.6" transform="rotate(13.04 133.65 367.49)" fill="#d4dcdc" stroke="#ebc6dc" stroke-width="1"/><ellipse cx="189.51" cy="329.35" rx="2.41" ry="2.9" transform="rotate(10.65 189.51 329.35)" fill="#d4dcdc" stroke="#ebc6dc" stroke-width="1"/><ellipse cx="134.42" cy="361.65" rx="2.36" ry="2.48" transform="rotate(18.26 134.42 361.65)" fill="#d4dcdc" stroke="#ebc6dc" stroke-width="1"/><ellipse cx="161.58" cy="330.18" rx="2.65" ry="3.14" transform="rotate(13.8 161.58 330.18)" fill="#d4dcdc" stroke="#ebc6dc" stroke-width="1"/><ellipse cx="171.04" cy="381.12" rx="2.85" ry="3.91" transform="rotate(-4.24 171.04 381.12)" fill="#d4dcdc" stroke="#ebc6dc" stroke-width="1"/><ellipse cx="162.49" cy="352.54" rx="2.52" ry="3.66" transform="rotate(-15.46 162.49 352.54)" fill="#d4dcdc" stroke="#ebc6dc" stroke-width="1"/><ellipse cx="122.79" cy="382.56" rx="2.97" ry="3.63" transform="rotate(-9.08 122.79 382.56)" fill="#d4dcdc" stroke="#ebc6dc" stroke-width="1"/><ellipse cx="175.12" cy="358.32" rx="2.35" ry="2.82" transform="rotate(15.23 175.12 358.32)" fill="#d4dcdc" stroke="#ebc6dc" stroke-width="1"/><ellipse cx="170.62" cy="373.61" rx="3.56" ry="3.57" transform="rotate(-13.89 170.62 373.61)" fill="#d4dcdc" stroke="#ebc6dc" stroke-width="1"/><ellipse cx="141.62" cy="358" rx="2.53" ry="2.61" transform="rotate(11.74 141.62 358)" fill="#d4dcdc" stroke="#ebc6dc" stroke-width="1"/><ellipse cx="125.4" cy="326.88" rx="2.85" ry="3.34" transform="rotate(-16.71 125.4 326.88)" fill="#d4dcdc" stroke="#ebc6dc" stroke-width="1"/><ellipse cx="146.31" cy="334.62" rx="2.12" ry="2.83" transform="rotate(0.62 146.31 334.62)" fill="#d4dcdc" stroke="#ebc6dc" stroke-width="1"/><ellipse cx="155.4" cy="326.23" rx="2.67" ry="3.3" transform="rotate(-1.84 155.4 326.23)" fill="#d4dcdc" stroke="#ebc6dc" stroke-width="1"/><ellipse cx="177.86" cy="348.78" rx="3.45" ry="3.6" transform="rotate(-15.65 177.86 348.78)" fill="#d4dcdc" stroke="#ebc6dc" stroke-width="1"/><ellipse cx="120.45" cy="355.77" rx="2.75" ry="2.65" transform="rotate(-8.4 120.45 355.77)" fill="#d4dcdc" stroke="#ebc6dc" stroke-width="1"/><ellipse cx="116.02" cy="381.74" rx="2.88" ry="3.17" transform="rotate(13.65 116.02 381.74)" fill="#d4dcdc" stroke="#ebc6dc" stroke-width="1"/><ellipse cx="150.67" cy="339.69" rx="2.92" ry="3.1" transform="rotate(-9.14 150.67 339.69)" fill="#d4dcdc" stroke="#ebc6dc" stroke-width="1"/><ellipse cx="190.85" cy="342.44" rx="2.36" ry="3.17" transform="rotate(-7.65 190.85 342.44)" fill="#d4dcdc" stroke="#ebc6dc" stroke-width="1"/><ellipse cx="176.78" cy="376.94" rx="2.63" ry="2.57" transform="rotate(-17.99 176.78 376.94)" fill="#d4dcdc" stroke="#ebc6dc" stroke-width="1"/><ellipse cx="145.1" cy="375.84" rx="3.17" ry="4.05" transform="rotate(-8.72 145.1 375.84)" fill="#d4dcdc" stroke="#ebc6dc" stroke-width="1"/><ellipse cx="128.24" cy="361.95" rx="2.79" ry="3.63" transform="rotate(19.14 128.24 361.95)" fill="#d4dcdc" stroke="#ebc6dc" stroke-width="1"/><ellipse cx="157.83" cy="385.11" rx="2.23" ry="2.79" transform="rotate(-14.05 157.83 385.11)" fill="#d4dcdc" stroke="#ebc6dc" stroke-width="1"/><ellipse cx="171.76" cy="325.2" rx="3.29" ry="3.18" transform="rotate(-5.87 171.76 325.2)" fill="#d4dcdc" stroke="#ebc6dc" stroke-width="1"/><ellipse cx="143.02" cy="385.81" rx="2.87" ry="3.31" transform="rotate(8.15 143.02 385.81)" fill="#d4dcdc" stroke="#ebc6dc" stroke-width="1"/><ellipse cx="187.02" cy="381.26" rx="3.07" ry="4.07" transform="rotate(18.55 187.02 381.26)" fill="#d4dcdc" stroke="#ebc6dc" stroke-width="1"/><ellipse cx="185.63" cy="337.96" rx="3.14" ry="3.3" transform="rotate(-0.43 185.63 337.96)" fill="#d4dcdc" stroke="#ebc6dc" stroke-width="1"/><ellipse cx="160.5" cy="364.98" rx="2.22" ry="2.69" transform="rotate(-12.96 160.5 364.98)" fill="#d4dcdc" stroke="#ebc6dc" stroke-width="1"/><ellipse cx="181.89" cy="379.03" rx="2.38" ry="2.86" transform="rotate(15.61 181.89 379.03)" fill="#d4dcdc" stroke="#ebc6dc" stroke-width="1"/><ellipse cx="190.78" cy="351.27" rx="2.74" ry="3.54" transform="rotate(15.71 190.78 351.27)" fill="#d4dcdc" stroke="#ebc6dc" stroke-width="1"/><ellipse cx="182.63" cy="373.18" rx="2.12" ry="2.45" transform="rotate(15.52 182.63 373.18)" fill="#d4dcdc" stroke="#ebc6dc" stroke-width="1"/><ellipse cx="166.02" cy="378.53" rx="2.23" ry="3.27" transform="rotate(-9.89 166.02 378.53)" fill="#d4dcdc" stroke="#ebc6dc" stroke-width="1"/><ellipse cx="151.4" cy="356.57" rx="1.98" ry="2.64" transform="rotate(-11.69 151.4 356.57)" fill="#d4dcdc" stroke="#ebc6dc" stroke-width="1"/><ellipse cx="180.42" cy="384.59" rx="2.1" ry="3.03" transform="rotate(-2.1 180.42 384.59)" fill="#d4dcdc" stroke="#ebc6dc" stroke-width="1"/><ellipse cx="165.94" cy="366.8" rx="2.2" ry="2.84" transform="rotate(-5.85 165.94 366.8)" fill="#d4dcdc" stroke="#ebc6dc" stroke-width="1"/><ellipse cx="184.22" cy="331.37" rx="2.46" ry="2.51" transform="rotate(0.53 184.22 331.37)" fill="#d4dcdc" stroke="#ebc6dc" stroke-width="1"/><ellipse cx="130.51" cy="371.74" rx="2.17" ry="2.44" transform="rotate(-16.56 130.51 371.74)" fill="#d4dcdc" stroke="#ebc6dc" stroke-width="1"/><ellipse cx="170.87" cy="347.56" rx="2.73" ry="2.83" transform="rotate(-1.86 170.87 347.56)" fill="#d4dcdc" stroke="#ebc6dc" stroke-width="1"/><ellipse cx="160.22" cy="379.55" rx="3.52" ry="3.45" transform="rotate(-12.8 160.22 379.55)" fill="#d4dcdc" stroke="#ebc6dc" stroke-width="1"/><ellipse cx="149.54" cy="328.69" rx="2.3" ry="2.68" transform="rotate(7.56 149.54 328.69)" fill="#d4dcdc" stroke="#ebc6dc" stroke-width="1"/><ellipse cx="116.72" cy="366.3" rx="2.03" ry="2.53" transform="rotate(4.99 116.72 366.3)" fill="#d4dcdc" stroke="#ebc6dc" stroke-width="1"/><ellipse cx="134.13" cy="377.5" rx="2.61" ry="3.08" transform="rotate(-10.93 134.13 377.5)" fill="#d4dcdc" stroke="#ebc6dc" stroke-width="1"/><ellipse cx="164.65" cy="334.88" rx="2.35" ry="2.74" transform="rotate(15.02 164.65 334.88)" fill="#d4dcdc" stroke="#ebc6dc" stroke-width="1"/><ellipse cx="116.12" cy="332.67" rx="3.01" ry="3.98" transform="rotate(-8.6 116.12 332.67)" fill="#d4dcdc" stroke="#ebc6dc" stroke-width="1"/><ellipse cx="181.18" cy="341.43" rx="1.97" ry="2.38" transform="rotate(-0.4 181.18 341.43)" fill="#d4dcdc" stroke="#ebc6dc" stroke-width="1"/><ellipse cx="160.83" cy="359.89" rx="1.94" ry="2.31" transform="rotate(5.69 160.83 359.89)" fill="#d4dcdc" stroke="#ebc6dc" stroke-width="1"/><ellipse cx="191" cy="386.29" rx="2.22" ry="2.56" transform="rotate(-7.26 191 386.29)" fill="#d4dcdc" stroke="#ebc6dc" stroke-width="1"/><ellipse cx="164.07" cy="346.32" rx="2.59" ry="3" transform="rotate(16.08 164.07 346.32)" fill="#d4dcdc" stroke="#ebc6dc" stroke-width="1"/><ellipse cx="117.14" cy="359.84" rx="2.29" ry="2.97" transform="rotate(7.17 117.14 359.84)" fill="#d4dcdc" stroke="#ebc6dc" stroke-width="1"/><ellipse cx="156.53" cy="368.59" rx="2.38" ry="2.88" transform="rotate(16.26 156.53 368.59)" fill="#d4dcdc" stroke="#ebc6dc" stroke-width="1"/><ellipse cx="134.91" cy="345.57" rx="2.58" ry="2.6" transform="rotate(-0.22 134.91 345.57)" fill="#d4dcdc" stroke="#ebc6dc" stroke-width="1"/><ellipse cx="145.79" cy="368.73" rx="2.3" ry="2.76" transform="rotate(15.73 145.79 368.73)" fill="#d4dcdc" stroke="#ebc6dc" stroke-width="1"/><ellipse cx="126.77" cy="333.82" rx="2.27" ry="2.9" transform="rotate(10.23 126.77 333.82)" fill="#d4dcdc" stroke="#ebc6dc" stroke-width="1"/><ellipse cx="166.12" cy="327.06" rx="2.38" ry="2.43" transform="rotate(-9.97 166.12 327.06)" fill="#d4dcdc" stroke="#ebc6dc" stroke-width="1"/><ellipse cx="190.09" cy="376.02" rx="1.98" ry="2.52" transform="rotate(4.91 190.09 376.02)" fill="#d4dcdc" stroke="#ebc6dc" stroke-width="1"/><ellipse cx="158.87" cy="335.05" rx="2.2" ry="2.58" transform="rotate(-9.77 158.87 335.05)" fill="#d4dcdc" stroke="#ebc6dc" stroke-width="1"/><ellipse cx="136.16" cy="331.24" rx="2.39" ry="3.06" transform="rotate(11.49 136.16 331.24)" fill="#d4dcdc" stroke="#ebc6dc" stroke-width="1"/><ellipse cx="151.54" cy="351.87" rx="1.87" ry="2.24" transform="rotate(-17.19 151.54 351.87)" fill="#d4dcdc" stroke="#ebc6dc" stroke-width="1"/><ellipse cx="128.61" cy="385.98" rx="2.77" ry="3.05" transform="rotate(9.12 128.61 385.98)" fill="#d4dcdc" stroke="#ebc6dc" stroke-width="1"/><ellipse cx="146.55" cy="325.33" rx="1.9" ry="2.44" transform="rotate(-17.2 146.55 325.33)" fill="#d4dcdc" stroke="#ebc6dc" stroke-width="1"/><ellipse cx="147.93" cy="384.2" rx="2.06" ry="2.55" transform="rotate(-15.92 147.93 384.2)" fill="#d4dcdc" stroke="#ebc6dc" stroke-width="1"/><ellipse cx="150.83" cy="368.28" rx="2.45" ry="2.43" transform="rotate(-13.94 150.83 368.28)" fill="#d4dcdc" stroke="#ebc6dc" stroke-width="1"/><ellipse cx="156.83" cy="355.17" rx="2.81" ry="3.58" transform="rotate(14.13 156.83 355.17)" fill="#d4dcdc" stroke="#ebc6dc" stroke-width="1"/><ellipse cx="190.84" cy="363.09" rx="2.54" ry="2.58" transform="rotate(-4.05 190.84 363.09)" fill="#d4dcdc" stroke="#ebc6dc" stroke-width="1"/><ellipse cx="144.68" cy="339.84" rx="1.36" ry="1.75" transform="rotate(-10.84 144.68 339.84)" fill="#d4dcdc" stroke="#ebc6dc" stroke-width="1"/><ellipse cx="152.42" cy="347.35" rx="1.5" ry="1.82" transform="rotate(-10.6 152.42 347.35)" fill="#d4dcdc" stroke="#ebc6dc" stroke-width="1"/><ellipse cx="123.78" cy="369.95" rx="1.16" ry="1.64" transform="rotate(6.12 123.78 369.95)" fill="#d4dcdc" stroke="#ebc6dc" stroke-width="1"/><ellipse cx="177.99" cy="361.61" rx="1.42" ry="2.11" transform="rotate(7.02 177.99 361.61)" fill="#d4dcdc" stroke="#ebc6dc" stroke-width="1"/><ellipse cx="142.07" cy="334.23" rx="1.84" ry="1.85" transform="rotate(4.97 142.07 334.23)" fill="#d4dcdc" stroke="#ebc6dc" stroke-width="1"/><ellipse cx="185.79" cy="325.26" rx="1.53" ry="1.74" transform="rotate(-7.8 185.79 325.26)" fill="#d4dcdc" stroke="#ebc6dc" stroke-width="1"/><ellipse cx="131.87" cy="358.16" rx="1.57" ry="1.92" transform="rotate(-11.41 131.87 358.16)" fill="#d4dcdc" stroke="#ebc6dc" stroke-width="1"/><ellipse cx="164.74" cy="371.38" rx="1.15" ry="1.58" transform="rotate(18.01 164.74 371.38)" fill="#d4dcdc" stroke="#ebc6dc" stroke-width="1"/><ellipse cx="136.2" cy="372.69" rx="1.62" ry="1.94" transform="rotate(6.33 136.2 372.69)" fill="#d4dcdc" stroke="#ebc6dc" stroke-width="1"/><ellipse cx="171.5" cy="338.12" rx="1.57" ry="1.96" transform="rotate(-19.5 171.5 338.12)" fill="#d4dcdc" stroke="#ebc6dc" stroke-width="1"/><ellipse cx="167.21" cy="385.55" rx="1.87" ry="2.46" transform="rotate(-12.79 167.21 385.55)" fill="#d4dcdc" stroke="#ebc6dc" stroke-width="1"/><ellipse cx="137.14" cy="357.2" rx="1.35" ry="1.95" transform="rotate(-8.79 137.14 357.2)" fill="#d4dcdc" stroke="#ebc6dc" stroke-width="1"/><ellipse cx="189.95" cy="334.95" rx="2.11" ry="2.59" transform="rotate(-4.48 189.95 334.95)" fill="#d4dcdc" stroke="#ebc6dc" stroke-width="1"/><ellipse cx="139.54" cy="348.14" rx="1.28" ry="1.6" transform="rotate(-0.53 139.54 348.14)" fill="#d4dcdc" stroke="#ebc6dc" stroke-width="1"/><ellipse cx="167.44" cy="356.4" rx="1.47" ry="1.54" transform="rotate(12.15 167.44 356.4)" fill="#d4dcdc" stroke="#ebc6dc" stroke-width="1"/><ellipse cx="138.18" cy="375.52" rx="1.34" ry="1.73" transform="rotate(-14.9 138.18 375.52)" fill="#d4dcdc" stroke="#ebc6dc" stroke-width="1"/><ellipse cx="131.35" cy="338.73" rx="1.22" ry="1.5" transform="rotate(-13.07 131.35 338.73)" fill="#d4dcdc" stroke="#ebc6dc" stroke-width="1"/><ellipse cx="170.23" cy="360.26" rx="1.72" ry="1.94" transform="rotate(12.72 170.23 360.26)" fill="#d4dcdc" stroke="#ebc6dc" stroke-width="1"/><ellipse cx="118.21" cy="386.53" rx="1.56" ry="1.95" transform="rotate(-7.74 118.21 386.53)" fill="#d4dcdc" stroke="#ebc6dc" stroke-width="1"/><ellipse cx="124.91" cy="338.28" rx="1.35" ry="1.57" transform="rotate(0.78 124.91 338.28)" fill="#d4dcdc" stroke="#ebc6dc" stroke-width="1"/><ellipse cx="122.8" cy="376.85" rx="1.67" ry="1.83" transform="rotate(9.19 122.8 376.85)" fill="#d4dcdc" stroke="#ebc6dc" stroke-width="1"/><ellipse cx="134" cy="341.02" rx="1.63" ry="2.2" transform="rotate(5.67 134 341.02)" fill="#d4dcdc" stroke="#ebc6dc" stroke-width="1"/><ellipse cx="124.5" cy="358.09" rx="1.45" ry="1.87" transform="rotate(-6.19 124.5 358.09)" fill="#d4dcdc" stroke="#ebc6dc" stroke-width="1"/><ellipse cx="182.85" cy="325.07" rx="1.59" ry="2.36" transform="rotate(19.86 182.85 325.07)" fill="#d4dcdc" stroke="#ebc6dc" stroke-width="1"/><ellipse cx="177.5" cy="342.86" rx="1.69" ry="2.13" transform="rotate(2.43 177.5 342.86)" fill="#d4dcdc" stroke="#ebc6dc" stroke-width="1"/><ellipse cx="188.18" cy="346.44" rx="1.37" ry="1.53" transform="rotate(-12.75 188.18 346.44)" fill="#d4dcdc" stroke="#ebc6dc" stroke-width="1"/><ellipse cx="187.06" cy="375.01" rx="1.32" ry="1.61" transform="rotate(-1.42 187.06 375.01)" fill="#d4dcdc" stroke="#ebc6dc" stroke-width="1"/><ellipse cx="128.57" cy="348.51" rx="1.12" ry="1.33" transform="rotate(2.21 128.57 348.51)" fill="#d4dcdc" stroke="#ebc6dc" stroke-width="1"/><ellipse cx="175.6" cy="353.47" rx="1.37" ry="1.39" transform="rotate(17.18 175.6 353.47)" fill="#d4dcdc" stroke="#ebc6dc" stroke-width="1"/><ellipse cx="134.13" cy="337.46" rx="1.4" ry="1.42" transform="rotate(-14.95 134.13 337.46)" fill="#d4dcdc" stroke="#ebc6dc" stroke-width="1"/><ellipse cx="120.58" cy="327.54" rx="1.35" ry="1.82" transform="rotate(-12.22 120.58 327.54)" fill="#d4dcdc" stroke="#ebc6dc" stroke-width="1"/><ellipse cx="185.07" cy="343.28" rx="1.31" ry="1.5" transform="rotate(14.17 185.07 343.28)" fill="#d4dcdc" stroke="#ebc6dc" stroke-width="1"/><ellipse cx="125.91" cy="353.4" rx="1.47" ry="1.59" transform="rotate(17.72 125.91 353.4)" fill="#d4dcdc" stroke="#ebc6dc" stroke-width="1"/><ellipse cx="149.57" cy="371.71" rx="1.15" ry="1.39" transform="rotate(-10.68 149.57 371.71)" fill="#d4dcdc" stroke="#ebc6dc" stroke-width="1"/><ellipse cx="159.44" cy="346.21" rx="1.22" ry="1.61" transform="rotate(14.32 159.44 346.21)" fill="#d4dcdc" stroke="#ebc6dc" stroke-width="1"/><ellipse cx="175.92" cy="381.29" rx="1.33" ry="1.74" transform="rotate(14.75 175.92 381.29)" fill="#d4dcdc" stroke="#ebc6dc" stroke-width="1"/><ellipse cx="166.86" cy="351.82" rx="1.2" ry="1.51" transform="rotate(5.97 166.86 351.82)" fill="#d4dcdc" stroke="#ebc6dc" stroke-width="1"/><ellipse cx="148.06" cy="354.18" rx="1.59" ry="1.7" transform="rotate(11.34 148.06 354.18)" fill="#d4dcdc" stroke="#ebc6dc" stroke-width="1"/><ellipse cx="175.44" cy="328.81" rx="1.48" ry="2.02" transform="rotate(-2.07 175.44 328.81)" fill="#d4dcdc" stroke="#ebc6dc" stroke-width="1"/><ellipse cx="117.38" cy="375.99" rx="1.1" ry="1.29" transform="rotate(-5.65 117.38 375.99)" fill="#d4dcdc" stroke="#ebc6dc" stroke-width="1"/><ellipse cx="149.07" cy="379.85" rx="1.2" ry="1.38" transform="rotate(-19.92 149.07 379.85)" fill="#d4dcdc" stroke="#ebc6dc" stroke-width="1"/><ellipse cx="119.18" cy="337.56" rx="1.82" ry="2.09" transform="rotate(15.17 119.18 337.56)" fill="#d4dcdc" stroke="#ebc6dc" stroke-width="1"/><ellipse cx="139.25" cy="355.07" rx="1.23" ry="1.44" transform="rotate(-14.61 139.25 355.07)" fill="#d4dcdc" stroke="#ebc6dc" stroke-width="1"/><ellipse cx="146.41" cy="342.74" rx="1.43" ry="1.78" transform="rotate(12.68 146.41 342.74)" fill="#d4dcdc" stroke="#ebc6dc" stroke-width="1"/><ellipse cx="180.93" cy="337.18" rx="1.34" ry="1.8" transform="rotate(13.17 180.93 337.18)" fill="#d4dcdc" stroke="#ebc6dc" stroke-width="1"/><ellipse cx="172.58" cy="385.99" rx="1.12" ry="1.51" transform="rotate(-16.03 172.58 385.99)" fill="#d4dcdc" stroke="#ebc6dc" stroke-width="1"/><ellipse cx="184.06" cy="386.01" rx="1.29" ry="1.67" transform="rotate(-17.94 184.06 386.01)" fill="#d4dcdc" stroke="#ebc6dc" stroke-width="1"/><ellipse cx="116" cy="355.01" rx="1.73" ry="2.13" transform="rotate(-2.8 116 355.01)" fill="#d4dcdc" stroke="#ebc6dc" stroke-width="1"/><ellipse cx="119.34" cy="378.47" rx="1.47" ry="1.86" transform="rotate(12.54 119.34 378.47)" fill="#d4dcdc" stroke="#ebc6dc" stroke-width="1"/><ellipse cx="185.6" cy="352.2" rx="1.71" ry="1.76" transform="rotate(-16.65 185.6 352.2)" fill="#d4dcdc" stroke="#ebc6dc" stroke-width="1"/><ellipse cx="160.69" cy="324.82" rx="1.4" ry="1.49" transform="rotate(10.73 160.69 324.82)" fill="#d4dcdc" stroke="#ebc6dc" stroke-width="1"/><ellipse cx="137.37" cy="324.97" rx="1.8" ry="1.76" transform="rotate(-9.3 137.37 324.97)" fill="#d4dcdc" stroke="#ebc6dc" stroke-width="1"/><ellipse cx="169.47" cy="368.62" rx="1.09" ry="1.32" transform="rotate(13.32 169.47 368.62)" fill="#d4dcdc" stroke="#ebc6dc" stroke-width="1"/><ellipse cx="155.69" cy="338.1" rx="1.33" ry="1.64" transform="rotate(15.39 155.69 338.1)" fill="#d4dcdc" stroke="#ebc6dc" stroke-width="1"/><ellipse cx="132.08" cy="348.31" rx="1.29" ry="1.69" transform="rotate(-9.09 132.08 348.31)" fill="#d4dcdc" stroke="#ebc6dc" stroke-width="1"/><ellipse cx="182.69" cy="369.19" rx="1.17" ry="1.47" transform="rotate(-5.09 182.69 369.19)" fill="#d4dcdc" stroke="#ebc6dc" stroke-width="1"/><ellipse cx="167.95" cy="363.01" rx="1.25" ry="1.42" transform="rotate(-7.7 167.95 363.01)" fill="#d4dcdc" stroke="#ebc6dc" stroke-width="1"/><ellipse cx="129.88" cy="325.09" rx="1.44" ry="1.44" transform="rotate(-15 129.88 325.09)" fill="#d4dcdc" stroke="#ebc6dc" stroke-width="1"/><ellipse cx="127.35" cy="356.44" rx="1.6" ry="1.69" transform="rotate(-4.61 127.35 356.44)" fill="#d4dcdc" stroke="#ebc6dc" stroke-width="1"/><ellipse cx="150.5" cy="334.69" rx="1.3" ry="1.68" transform="rotate(15.59 150.5 334.69)" fill="#d4dcdc" stroke="#ebc6dc" stroke-width="1"/><ellipse cx="139.03" cy="385.55" rx="1.17" ry="1.4" transform="rotate(6.45 139.03 385.55)" fill="#d4dcdc" stroke="#ebc6dc" stroke-width="1"/><ellipse cx="125.43" cy="372.38" rx="1.34" ry="1.75" transform="rotate(0.64 125.43 372.38)" fill="#d4dcdc" stroke="#ebc6dc" stroke-width="1"/><ellipse cx="130.75" cy="382.45" rx="1.08" ry="1.31" transform="rotate(-0.47 130.75 382.45)" fill="#d4dcdc" stroke="#ebc6dc" stroke-width="1"/><ellipse cx="145.52" cy="357.11" rx="1.39" ry="1.48" transform="rotate(2.34 145.52 357.11)" fill="#d4dcdc" stroke="#ebc6dc" stroke-width="1"/><ellipse cx="150.03" cy="376.13" rx="1.51" ry="1.53" transform="rotate(-13.8 150.03 376.13)" fill="#d4dcdc" stroke="#ebc6dc" stroke-width="1"/><ellipse cx="141.31" cy="350.9" rx="1.77" ry="1.84" transform="rotate(9.68 141.31 350.9)" fill="#d4dcdc" stroke="#ebc6dc" stroke-width="1"/><ellipse cx="150.88" cy="386.25" rx="1.28" ry="1.5" transform="rotate(-17.02 150.88 386.25)" fill="#d4dcdc" stroke="#ebc6dc" stroke-width="1"/><ellipse cx="179.57" cy="374.43" rx="1.1" ry="1.63" transform="rotate(1.27 179.57 374.43)" fill="#d4dcdc" stroke="#ebc6dc" stroke-width="1"/><ellipse cx="177.33" cy="324.9" rx="1.17" ry="1.4" transform="rotate(-16.15 177.33 324.9)" fill="#d4dcdc" stroke="#ebc6dc" stroke-width="1"/><ellipse cx="174.44" cy="345.32" rx="1.12" ry="1.35" transform="rotate(-0.85 174.44 345.32)" fill="#d4dcdc" stroke="#ebc6dc" stroke-width="1"/><ellipse cx="180.78" cy="362" rx="1.37" ry="1.52" transform="rotate(15.68 180.78 362)" fill="#d4dcdc" stroke="#ebc6dc" stroke-width="1"/></g></g><g clip-path="url(#c13)"><line x1="119.8" y1="326.8" x2="125.8" y2="384.6" stroke="#f3e3ee" stroke-width="0.8"/></g><rect x="0" y="0" width="520" height="1.1" fill="#000" /><rect x="0" y="0" width="1.3" height="571" fill="#000" /><rect x="518.7" y="0" width="1.3" height="571" fill="#000" /><rect x="0" y="569.4" width="520" height="1.6" fill="#000" /><text x="7.3" y="15.6" font-size="12.2" text-anchor="start" font-weight="bold" fill="#000" >A</text><polyline points="50.7,20.35 66.4,20.4 68,21.6 70,21.6 71,23 73.8,23.5 74.5,26 81.1,26 82,27.5 84,27.5 85,30 87,30 89.7,35.2 95,35.2 96,37 99.9,38.9 103,39 104,41 107.3,42.6 109,44 110,46 112.8,49.4 117.7,51.8 119,54 121.4,60.4 124,62 127.5,65.3 131.8,69 133,72 136.1,77.6 138.6,81.4 148,81.4" fill="none" stroke="#62a645" stroke-width="1.4" stroke-linejoin="round" /><polyline points="50.7,20.4 96.2,20.4 96.2,26.7 111.6,26.7 112.5,31 114.6,38.9 116,41 118.9,46.3 120,52 121.4,64 122,75.1 125,75.1 125,81.9" fill="none" stroke="#253d75" stroke-width="1.4" stroke-linejoin="round" /><polyline points="50.7,20.4 96,20.4 98,21.6 103,21.7 104,23.5 106.7,26 111.6,27.3 112.5,31 114,37 116,39 118.9,43.8 121,46 123.8,50.6 126,53 128.1,57.3 130,59 131.8,62.2 133,64 134.9,66.5 136,70 137.3,73.9 139.5,77 141.6,80.6 142.5,81.9" fill="none" stroke="#a80d3a" stroke-width="1.4" stroke-linejoin="round" /><polyline points="50.7,20.4 96,20.4 98,21.6 103,21.7 104,23.5 106.7,26 111.6,27.3 112.5,31 114,37 116,39 118.9,43.8 121,46 123.8,50.6 126,53 128.1,57.3 130,59 131.8,62.2 133,64 134.9,66.5 136,70 137.3,73.9 139.5,77 141.6,80.6 142.5,81.9" fill="none" stroke="#e0708f" stroke-width="0.7" stroke-linejoin="round" stroke-dasharray="0.8 2.4"/><polyline points="50.7,20.4 55.5,20.4 56.8,21.3 57.8,24.5 58.6,28.5 59.5,34 60.3,39.5 61,48 61.7,58 62.4,64.5 63,70.2 63.7,75.5 64.4,79.5 65.2,81.9" fill="none" stroke="#3f1d58" stroke-width="1.6" stroke-linejoin="round" /><line x1="50.7" y1="20" x2="50.7" y2="82.4" stroke="#111" stroke-width="1.1" /><line x1="50.2" y1="81.9" x2="162" y2="81.9" stroke="#111" stroke-width="1.1" /><line x1="47.2" y1="81.9" x2="50.7" y2="81.9" stroke="#111" stroke-width="1" /><text x="44.6" y="85.5" font-size="8" text-anchor="end" fill="#1a1a1a" stroke="#1a1a1a" stroke-width="0.22" >0</text><line x1="47.2" y1="69.59" x2="50.7" y2="69.59" stroke="#111" stroke-width="1" /><text x="44.6" y="73.19" font-size="8" text-anchor="end" fill="#1a1a1a" stroke="#1a1a1a" stroke-width="0.22" >20</text><line x1="47.2" y1="57.28" x2="50.7" y2="57.28" stroke="#111" stroke-width="1" /><text x="44.6" y="60.88" font-size="8" text-anchor="end" fill="#1a1a1a" stroke="#1a1a1a" stroke-width="0.22" >40</text><line x1="47.2" y1="44.97" x2="50.7" y2="44.97" stroke="#111" stroke-width="1" /><text x="44.6" y="48.57" font-size="8" text-anchor="end" fill="#1a1a1a" stroke="#1a1a1a" stroke-width="0.22" >60</text><line x1="47.2" y1="32.66" x2="50.7" y2="32.66" stroke="#111" stroke-width="1" /><text x="44.6" y="36.26" font-size="8" text-anchor="end" fill="#1a1a1a" stroke="#1a1a1a" stroke-width="0.22" >80</text><line x1="47.2" y1="20.35" x2="50.7" y2="20.35" stroke="#111" stroke-width="1" /><text x="44.6" y="23.95" font-size="8" text-anchor="end" fill="#1a1a1a" stroke="#1a1a1a" stroke-width="0.22" >100</text><line x1="50.6" y1="81.9" x2="50.6" y2="85.2" stroke="#111" stroke-width="1" /><text x="50.8" y="94.6" font-size="8" text-anchor="middle" fill="#1a1a1a" stroke="#1a1a1a" stroke-width="0.22" >0</text><line x1="66.14" y1="81.9" x2="66.14" y2="85.2" stroke="#111" stroke-width="1" /><text x="66.34" y="94.6" font-size="8" text-anchor="middle" fill="#1a1a1a" stroke="#1a1a1a" stroke-width="0.22" >5</text><line x1="81.67" y1="81.9" x2="81.67" y2="85.2" stroke="#111" stroke-width="1" /><text x="81.87" y="94.6" font-size="8" text-anchor="middle" fill="#1a1a1a" stroke="#1a1a1a" stroke-width="0.22" >10</text><line x1="97.21" y1="81.9" x2="97.21" y2="85.2" stroke="#111" stroke-width="1" /><text x="97.41" y="94.6" font-size="8" text-anchor="middle" fill="#1a1a1a" stroke="#1a1a1a" stroke-width="0.22" >15</text><line x1="112.74" y1="81.9" x2="112.74" y2="85.2" stroke="#111" stroke-width="1" /><text x="112.94" y="94.6" font-size="8" text-anchor="middle" fill="#1a1a1a" stroke="#1a1a1a" stroke-width="0.22" >20</text><line x1="128.28" y1="81.9" x2="128.28" y2="85.2" stroke="#111" stroke-width="1" /><text x="128.47" y="94.6" font-size="8" text-anchor="middle" fill="#1a1a1a" stroke="#1a1a1a" stroke-width="0.22" >25</text><line x1="143.81" y1="81.9" x2="143.81" y2="85.2" stroke="#111" stroke-width="1" /><text x="144.01" y="94.6" font-size="8" text-anchor="middle" fill="#1a1a1a" stroke="#1a1a1a" stroke-width="0.22" >30</text><line x1="159.34" y1="81.9" x2="159.34" y2="85.2" stroke="#111" stroke-width="1" /><text x="159.54" y="94.6" font-size="8" text-anchor="middle" fill="#1a1a1a" stroke="#1a1a1a" stroke-width="0.22" >35</text><text x="106.5" y="106.2" font-size="9" text-anchor="middle" textLength="53.3" lengthAdjust="spacingAndGlyphs" fill="#1a1a1a" stroke="#1a1a1a" stroke-width="0.22" >Age (months)</text><text x="27.4" y="49" font-size="9.6" text-anchor="middle" transform="rotate(-90 27.4 49)" textLength="47.5" lengthAdjust="spacingAndGlyphs" fill="#1a1a1a" stroke="#1a1a1a" stroke-width="0.22" >Survival (%)</text><line x1="134.6" y1="15.5" x2="143.8" y2="15.5" stroke="#b0103f" stroke-width="1.6" stroke-dasharray="1.2 0.8"/><text x="147.3" y="18.3" font-size="7.8" text-anchor="start" fill="#2a2a2a" stroke="#2a2a2a" stroke-width="0.22" >WT</text><line x1="134.6" y1="27.4" x2="143.8" y2="27.4" stroke="#253d75" stroke-width="1.6" /><text x="147.3" y="30.2" font-size="7.8" text-anchor="start" font-style="italic" fill="#2a2a2a" stroke="#2a2a2a" stroke-width="0.22" >Xpc</text><line x1="134.6" y1="38.9" x2="143.8" y2="38.9" stroke="#62a645" stroke-width="1.6" /><text x="147.3" y="41.7" font-size="7.8" text-anchor="start" font-style="italic" fill="#2a2a2a" stroke="#2a2a2a" stroke-width="0.22" >Rev1</text><line x1="134.6" y1="50.7" x2="143.8" y2="50.7" stroke="#3f1d58" stroke-width="1.6" /><text x="147.3" y="53.5" font-size="7.8" text-anchor="start" font-style="italic" fill="#2a2a2a" stroke="#2a2a2a" stroke-width="0.22" >Rev1 Xpc</text><text x="7.6" y="137.6" font-size="12.4" text-anchor="start" font-weight="bold" fill="#000" >B</text><text x="71.9" y="138.6" font-size="8.4" text-anchor="middle" font-style="italic" fill="#1a1a1a" stroke="#1a1a1a" stroke-width="0.22" >Xpc</text><text x="150.6" y="138.6" font-size="8.4" text-anchor="middle" font-style="italic" fill="#1a1a1a" stroke="#1a1a1a" stroke-width="0.22" >Rev1Xpc</text><rect x="33.2" y="142.9" width="77.3" height="1.3" fill="#222" /><rect x="112" y="142.9" width="77.2" height="1.3" fill="#222" /><text x="30.1" y="177.55" font-size="8" text-anchor="end" fill="#1a1a1a" stroke="#1a1a1a" stroke-width="0.22" >1 m</text><text x="30.1" y="238.2" font-size="8" text-anchor="end" fill="#1a1a1a" stroke="#1a1a1a" stroke-width="0.22" >1.5 m</text><text x="30.1" y="298.55" font-size="8" text-anchor="end" fill="#1a1a1a" stroke="#1a1a1a" stroke-width="0.22" >3 m</text><text x="30.1" y="358.6" font-size="8" text-anchor="end" fill="#1a1a1a" stroke="#1a1a1a" stroke-width="0.22" >MB</text><rect x="84.9" y="375.5" width="25.3" height="8.3" fill="#fff" /><text x="97.4" y="382.1" font-size="7.6" text-anchor="middle" fill="#1a1a1a" stroke="#1a1a1a" stroke-width="0.22" >23 m</text><rect x="167.4" y="375.7" width="21.5" height="8.1" fill="#fff" /><text x="178" y="382" font-size="7.6" text-anchor="middle" fill="#1a1a1a" stroke="#1a1a1a" stroke-width="0.22" >4 m</text><rect x="235.7" y="211.9" width="17.2" height="29.6" fill="#2a4c8c" /><line x1="244.3" y1="209.24" x2="244.3" y2="213.4" stroke="#111" stroke-width="1" /><line x1="240.8" y1="209.24" x2="247.8" y2="209.24" stroke="#111" stroke-width="1" /><rect x="261.2" y="217.23" width="17.4" height="24.27" fill="#561d6f" /><line x1="269.9" y1="213.97" x2="269.9" y2="218.73" stroke="#111" stroke-width="1" /><line x1="266.4" y1="213.97" x2="273.4" y2="213.97" stroke="#111" stroke-width="1" /><line x1="231.6" y1="193.3" x2="231.6" y2="242" stroke="#111" stroke-width="1.1" /><line x1="231.1" y1="241.5" x2="282" y2="241.5" stroke="#111" stroke-width="1.1" /><line x1="228.3" y1="241.5" x2="231.6" y2="241.5" stroke="#111" stroke-width="1" /><text x="225.4" y="245" font-size="8" text-anchor="end" fill="#1a1a1a" stroke="#1a1a1a" stroke-width="0.22" >0.0</text><line x1="228.3" y1="226.7" x2="231.6" y2="226.7" stroke="#111" stroke-width="1" /><text x="225.4" y="230.2" font-size="8" text-anchor="end" fill="#1a1a1a" stroke="#1a1a1a" stroke-width="0.22" >0.5</text><line x1="228.3" y1="211.9" x2="231.6" y2="211.9" stroke="#111" stroke-width="1" /><text x="225.4" y="215.4" font-size="8" text-anchor="end" fill="#1a1a1a" stroke="#1a1a1a" stroke-width="0.22" >1.0</text><line x1="228.3" y1="197.1" x2="231.6" y2="197.1" stroke="#111" stroke-width="1" /><text x="225.4" y="200.6" font-size="8" text-anchor="end" fill="#1a1a1a" stroke="#1a1a1a" stroke-width="0.22" >1.5</text><text x="244.3" y="251.7" font-size="8" text-anchor="middle" font-style="italic" fill="#1a1a1a" stroke="#1a1a1a" stroke-width="0.22" >Xpc</text><text x="270" y="251.7" font-size="8" text-anchor="middle" font-style="italic" fill="#1a1a1a" stroke="#1a1a1a" stroke-width="0.22" >Rev1</text><text x="270" y="261.5" font-size="8" text-anchor="middle" font-style="italic" fill="#1a1a1a" stroke="#1a1a1a" stroke-width="0.22" >Xpc</text><text x="207.9" y="217.7" font-size="8.9" text-anchor="middle" transform="rotate(-90 207.9 217.7)" textLength="65.5" lengthAdjust="spacingAndGlyphs" fill="#1a1a1a" stroke="#1a1a1a" stroke-width="0.22" >Cells (x10<tspan font-size="5.8" dy="-3.2">6</tspan><tspan dy="3.2">)/leg/g</tspan></text><rect x="236" y="295.1" width="16.6" height="29.9" fill="#2a4c8c" /><rect x="261" y="318.42" width="17.4" height="6.58" fill="#561d6f" /><line x1="269.7" y1="316.93" x2="269.7" y2="319.92" stroke="#111" stroke-width="1" /><line x1="266.2" y1="316.93" x2="273.2" y2="316.93" stroke="#111" stroke-width="1" /><line x1="231.6" y1="277.8" x2="231.6" y2="325.5" stroke="#111" stroke-width="1.1" /><line x1="231.1" y1="325" x2="282" y2="325" stroke="#111" stroke-width="1.1" /><line x1="228.3" y1="325" x2="231.6" y2="325" stroke="#111" stroke-width="1" /><text x="225.4" y="328.5" font-size="8" text-anchor="end" fill="#1a1a1a" stroke="#1a1a1a" stroke-width="0.22" >0.0</text><line x1="228.3" y1="310.05" x2="231.6" y2="310.05" stroke="#111" stroke-width="1" /><text x="225.4" y="313.55" font-size="8" text-anchor="end" fill="#1a1a1a" stroke="#1a1a1a" stroke-width="0.22" >0.5</text><line x1="228.3" y1="295.1" x2="231.6" y2="295.1" stroke="#111" stroke-width="1" /><text x="225.4" y="298.6" font-size="8" text-anchor="end" fill="#1a1a1a" stroke="#1a1a1a" stroke-width="0.22" >1.0</text><line x1="228.3" y1="280.15" x2="231.6" y2="280.15" stroke="#111" stroke-width="1" /><text x="225.4" y="283.65" font-size="8" text-anchor="end" fill="#1a1a1a" stroke="#1a1a1a" stroke-width="0.22" >1.5</text><text x="244.3" y="335.2" font-size="8" text-anchor="middle" font-style="italic" fill="#1a1a1a" stroke="#1a1a1a" stroke-width="0.22" >Xpc</text><text x="270" y="335.2" font-size="8" text-anchor="middle" font-style="italic" fill="#1a1a1a" stroke="#1a1a1a" stroke-width="0.22" >Rev1</text><text x="270" y="345" font-size="8" text-anchor="middle" font-style="italic" fill="#1a1a1a" stroke="#1a1a1a" stroke-width="0.22" >Xpc</text><text x="209.6" y="301.2" font-size="8.9" text-anchor="middle" transform="rotate(-90 209.6 301.2)" textLength="65.5" lengthAdjust="spacingAndGlyphs" fill="#1a1a1a" stroke="#1a1a1a" stroke-width="0.22" >Cells (x10<tspan font-size="5.8" dy="-3.2">6</tspan><tspan dy="3.2">)/leg/g</tspan></text><line x1="243.5" y1="290.6" x2="270.8" y2="290.6" stroke="#1a1a1a" stroke-width="1.1" /><line x1="243.5" y1="290.05" x2="243.5" y2="293.2" stroke="#1a1a1a" stroke-width="1.1" /><line x1="270.8" y1="290.05" x2="270.8" y2="293.2" stroke="#1a1a1a" stroke-width="1.1" /><circle cx="253.4" cy="288.2" r="1.15" fill="#151515"/><circle cx="257.15" cy="288.2" r="1.15" fill="#151515"/><circle cx="260.9" cy="288.2" r="1.15" fill="#151515"/><text x="286.6" y="15.6" font-size="12.4" text-anchor="start" font-weight="bold" fill="#000" >C</text><rect x="345" y="73.72" width="9.3" height="34.68" fill="#a8082f" /><line x1="349.65" y1="71.94" x2="349.65" y2="75.22" stroke="#1a1a1a" stroke-width="0.9" /><line x1="347.15" y1="71.94" x2="352.15" y2="71.94" stroke="#1a1a1a" stroke-width="0.9" /><rect x="359.13" y="71.17" width="9.3" height="37.23" fill="#a8082f" /><line x1="363.78" y1="69.64" x2="363.78" y2="72.67" stroke="#1a1a1a" stroke-width="0.9" /><line x1="361.28" y1="69.64" x2="366.28" y2="69.64" stroke="#1a1a1a" stroke-width="0.9" /><rect x="373.26" y="80.35" width="9.3" height="28.05" fill="#a8082f" /><line x1="377.91" y1="78.06" x2="377.91" y2="81.85" stroke="#1a1a1a" stroke-width="0.9" /><line x1="375.41" y1="78.06" x2="380.41" y2="78.06" stroke="#1a1a1a" stroke-width="0.9" /><rect x="387.39" y="79.08" width="9.3" height="29.32" fill="#2a4c8c" /><line x1="392.04" y1="76.53" x2="392.04" y2="80.58" stroke="#1a1a1a" stroke-width="0.9" /><line x1="389.54" y1="76.53" x2="394.54" y2="76.53" stroke="#1a1a1a" stroke-width="0.9" /><rect x="401.52" y="76.02" width="9.3" height="32.38" fill="#2a4c8c" /><line x1="406.17" y1="73.98" x2="406.17" y2="77.52" stroke="#1a1a1a" stroke-width="0.9" /><line x1="403.67" y1="73.98" x2="408.67" y2="73.98" stroke="#1a1a1a" stroke-width="0.9" /><rect x="415.65" y="76.02" width="9.3" height="32.38" fill="#2a4c8c" /><line x1="420.3" y1="72.19" x2="420.3" y2="77.52" stroke="#1a1a1a" stroke-width="0.9" /><line x1="417.8" y1="72.19" x2="422.8" y2="72.19" stroke="#1a1a1a" stroke-width="0.9" /><rect x="429.78" y="76.02" width="9.3" height="32.38" fill="#68ab45" /><line x1="434.43" y1="73.47" x2="434.43" y2="77.52" stroke="#1a1a1a" stroke-width="0.9" /><line x1="431.93" y1="73.47" x2="436.93" y2="73.47" stroke="#1a1a1a" stroke-width="0.9" /><rect x="443.91" y="76.78" width="9.3" height="31.62" fill="#68ab45" /><line x1="448.56" y1="75.51" x2="448.56" y2="78.28" stroke="#1a1a1a" stroke-width="0.9" /><line x1="446.06" y1="75.51" x2="451.06" y2="75.51" stroke="#1a1a1a" stroke-width="0.9" /><rect x="458.04" y="86.32" width="9.3" height="22.08" fill="#68ab45" /><line x1="462.69" y1="85.3" x2="462.69" y2="87.82" stroke="#1a1a1a" stroke-width="0.9" /><line x1="460.19" y1="85.3" x2="465.19" y2="85.3" stroke="#1a1a1a" stroke-width="0.9" /><rect x="472.17" y="82.39" width="9.3" height="26.01" fill="#561d6f" /><line x1="476.82" y1="81.37" x2="476.82" y2="83.89" stroke="#1a1a1a" stroke-width="0.9" /><line x1="474.32" y1="81.37" x2="479.32" y2="81.37" stroke="#1a1a1a" stroke-width="0.9" /><rect x="486.3" y="91.42" width="9.3" height="16.98" fill="#561d6f" /><line x1="490.95" y1="89.63" x2="490.95" y2="92.92" stroke="#1a1a1a" stroke-width="0.9" /><line x1="488.45" y1="89.63" x2="493.45" y2="89.63" stroke="#1a1a1a" stroke-width="0.9" /><rect x="500.43" y="104.12" width="9.3" height="4.28" fill="#561d6f" /><line x1="505.08" y1="103.35" x2="505.08" y2="105.62" stroke="#1a1a1a" stroke-width="0.9" /><line x1="502.58" y1="103.35" x2="507.58" y2="103.35" stroke="#1a1a1a" stroke-width="0.9" /><line x1="342.6" y1="45.1" x2="342.6" y2="108.9" stroke="#111" stroke-width="1.1" /><line x1="342.1" y1="108.4" x2="513" y2="108.4" stroke="#111" stroke-width="1.1" /><line x1="339.3" y1="108.4" x2="342.6" y2="108.4" stroke="#111" stroke-width="1" /><text x="336.4" y="112" font-size="8" text-anchor="end" fill="#1a1a1a" stroke="#1a1a1a" stroke-width="0.22" >0</text><line x1="339.3" y1="93.1" x2="342.6" y2="93.1" stroke="#111" stroke-width="1" /><text x="336.4" y="96.7" font-size="8" text-anchor="end" fill="#1a1a1a" stroke="#1a1a1a" stroke-width="0.22" >3</text><line x1="339.3" y1="77.8" x2="342.6" y2="77.8" stroke="#111" stroke-width="1" /><text x="336.4" y="81.4" font-size="8" text-anchor="end" fill="#1a1a1a" stroke="#1a1a1a" stroke-width="0.22" >6</text><line x1="339.3" y1="62.5" x2="342.6" y2="62.5" stroke="#111" stroke-width="1" /><text x="336.4" y="66.1" font-size="8" text-anchor="end" fill="#1a1a1a" stroke="#1a1a1a" stroke-width="0.22" >9</text><line x1="339.3" y1="47.2" x2="342.6" y2="47.2" stroke="#111" stroke-width="1" /><text x="336.4" y="50.8" font-size="8" text-anchor="end" fill="#1a1a1a" stroke="#1a1a1a" stroke-width="0.22" >12</text><text x="334.6" y="122.5" font-size="8" text-anchor="end" textLength="16.6" lengthAdjust="spacingAndGlyphs" fill="#1a1a1a" stroke="#1a1a1a" stroke-width="0.22" >Age:</text><text x="352.45" y="114.9" font-size="8" text-anchor="end" transform="rotate(-45 352.45 114.9)" fill="#1a1a1a" stroke="#1a1a1a" stroke-width="0.22" >1.5m</text><text x="366.58" y="114.9" font-size="8" text-anchor="end" transform="rotate(-45 366.58 114.9)" fill="#1a1a1a" stroke="#1a1a1a" stroke-width="0.22" >3m</text><text x="380.71" y="114.9" font-size="8" text-anchor="end" transform="rotate(-45 380.71 114.9)" fill="#1a1a1a" stroke="#1a1a1a" stroke-width="0.22" >MB</text><text x="394.84" y="114.9" font-size="8" text-anchor="end" transform="rotate(-45 394.84 114.9)" fill="#1a1a1a" stroke="#1a1a1a" stroke-width="0.22" >1.5m</text><text x="408.97" y="114.9" font-size="8" text-anchor="end" transform="rotate(-45 408.97 114.9)" fill="#1a1a1a" stroke="#1a1a1a" stroke-width="0.22" >3m</text><text x="423.1" y="114.9" font-size="8" text-anchor="end" transform="rotate(-45 423.1 114.9)" fill="#1a1a1a" stroke="#1a1a1a" stroke-width="0.22" >MB</text><text x="437.23" y="114.9" font-size="8" text-anchor="end" transform="rotate(-45 437.23 114.9)" fill="#1a1a1a" stroke="#1a1a1a" stroke-width="0.22" >1.5m</text><text x="451.36" y="114.9" font-size="8" text-anchor="end" transform="rotate(-45 451.36 114.9)" fill="#1a1a1a" stroke="#1a1a1a" stroke-width="0.22" >3m</text><text x="465.49" y="114.9" font-size="8" text-anchor="end" transform="rotate(-45 465.49 114.9)" fill="#1a1a1a" stroke="#1a1a1a" stroke-width="0.22" >MB</text><text x="479.62" y="114.9" font-size="8" text-anchor="end" transform="rotate(-45 479.62 114.9)" fill="#1a1a1a" stroke="#1a1a1a" stroke-width="0.22" >1.5m</text><text x="493.75" y="114.9" font-size="8" text-anchor="end" transform="rotate(-45 493.75 114.9)" fill="#1a1a1a" stroke="#1a1a1a" stroke-width="0.22" >3m</text><text x="507.88" y="114.9" font-size="8" text-anchor="end" transform="rotate(-45 507.88 114.9)" fill="#1a1a1a" stroke="#1a1a1a" stroke-width="0.22" >MB</text><line x1="345" y1="132.2" x2="382.56" y2="132.2" stroke="#111" stroke-width="1.1" /><text x="363.78" y="142.5" font-size="8.3" text-anchor="middle" fill="#1a1a1a" stroke="#1a1a1a" stroke-width="0.22" >WT</text><line x1="387.39" y1="132.2" x2="424.95" y2="132.2" stroke="#111" stroke-width="1.1" /><text x="406.17" y="142.5" font-size="8.3" text-anchor="middle" font-style="italic" fill="#1a1a1a" stroke="#1a1a1a" stroke-width="0.22" >Xpc</text><line x1="429.78" y1="132.2" x2="467.34" y2="132.2" stroke="#111" stroke-width="1.1" /><text x="448.56" y="142.5" font-size="8.3" text-anchor="middle" font-style="italic" fill="#1a1a1a" stroke="#1a1a1a" stroke-width="0.22" >Rev1</text><line x1="472.17" y1="132.2" x2="509.73" y2="132.2" stroke="#111" stroke-width="1.1" /><text x="490.95" y="142.5" font-size="8.3" text-anchor="middle" font-style="italic" fill="#1a1a1a" stroke="#1a1a1a" stroke-width="0.22" >Rev1Xpc</text><text x="310.1" y="77.7" font-size="9" text-anchor="middle" transform="rotate(-90 310.1 77.7)" textLength="44" lengthAdjust="spacingAndGlyphs" fill="#1a1a1a" stroke="#1a1a1a" stroke-width="0.22" >Total blood</text><text x="320" y="77" font-size="9" text-anchor="middle" transform="rotate(-90 320 77)" fill="#1a1a1a" stroke="#1a1a1a" stroke-width="0.22" >cells/ml (x10<tspan font-size="6" dy="-3">9</tspan><tspan dy="3">)</tspan></text><line x1="349.65" y1="16.2" x2="476.82" y2="16.2" stroke="#1a1a1a" stroke-width="1.1" /><line x1="349.65" y1="15.65" x2="349.65" y2="23.2" stroke="#1a1a1a" stroke-width="1.1" /><line x1="476.82" y1="15.65" x2="476.82" y2="23.7" stroke="#1a1a1a" stroke-width="1.1" /><circle cx="407.61" cy="13.8" r="1.15" fill="#151515"/><circle cx="411.36" cy="13.8" r="1.15" fill="#151515"/><circle cx="415.11" cy="13.8" r="1.15" fill="#151515"/><circle cx="418.86" cy="13.8" r="1.15" fill="#151515"/><line x1="434.43" y1="21.7" x2="476.82" y2="21.7" stroke="#1a1a1a" stroke-width="1.1" /><line x1="434.43" y1="21.15" x2="434.43" y2="26.2" stroke="#1a1a1a" stroke-width="1.1" /><circle cx="453.75" cy="19.3" r="1.15" fill="#151515"/><circle cx="457.5" cy="19.3" r="1.15" fill="#151515"/><line x1="363.78" y1="28.5" x2="490.95" y2="28.5" stroke="#1a1a1a" stroke-width="1.1" /><line x1="363.78" y1="27.95" x2="363.78" y2="42.8" stroke="#1a1a1a" stroke-width="1.1" /><line x1="490.95" y1="27.95" x2="490.95" y2="43" stroke="#1a1a1a" stroke-width="1.1" /><circle cx="421.74" cy="26.1" r="1.15" fill="#151515"/><circle cx="425.49" cy="26.1" r="1.15" fill="#151515"/><circle cx="429.24" cy="26.1" r="1.15" fill="#151515"/><circle cx="432.99" cy="26.1" r="1.15" fill="#151515"/><line x1="406.17" y1="33.9" x2="490.95" y2="33.9" stroke="#1a1a1a" stroke-width="1.1" /><line x1="406.17" y1="33.35" x2="406.17" y2="42.9" stroke="#1a1a1a" stroke-width="1.1" /><circle cx="442.93" cy="31.5" r="1.15" fill="#151515"/><circle cx="446.68" cy="31.5" r="1.15" fill="#151515"/><circle cx="450.43" cy="31.5" r="1.15" fill="#151515"/><circle cx="454.18" cy="31.5" r="1.15" fill="#151515"/><line x1="448.56" y1="40.2" x2="490.95" y2="40.2" stroke="#1a1a1a" stroke-width="1.1" /><line x1="448.56" y1="39.65" x2="448.56" y2="44.7" stroke="#1a1a1a" stroke-width="1.1" /><circle cx="464.13" cy="37.8" r="1.15" fill="#151515"/><circle cx="467.88" cy="37.8" r="1.15" fill="#151515"/><circle cx="471.63" cy="37.8" r="1.15" fill="#151515"/><circle cx="475.38" cy="37.8" r="1.15" fill="#151515"/><line x1="377.91" y1="48.6" x2="505.08" y2="48.6" stroke="#1a1a1a" stroke-width="1.1" /><line x1="377.91" y1="48.05" x2="377.91" y2="60.1" stroke="#1a1a1a" stroke-width="1.1" /><line x1="505.08" y1="48.05" x2="505.08" y2="100.1" stroke="#1a1a1a" stroke-width="1.1" /><circle cx="435.87" cy="46.2" r="1.15" fill="#151515"/><circle cx="439.62" cy="46.2" r="1.15" fill="#151515"/><circle cx="443.37" cy="46.2" r="1.15" fill="#151515"/><circle cx="447.12" cy="46.2" r="1.15" fill="#151515"/><line x1="349.65" y1="54" x2="377.91" y2="54" stroke="#1a1a1a" stroke-width="1.1" /><line x1="349.65" y1="53.45" x2="349.65" y2="60.5" stroke="#1a1a1a" stroke-width="1.1" /><circle cx="363.78" cy="51.6" r="1.15" fill="#151515"/><line x1="420.3" y1="54" x2="505.08" y2="54" stroke="#1a1a1a" stroke-width="1.1" /><line x1="420.3" y1="53.45" x2="420.3" y2="57" stroke="#1a1a1a" stroke-width="1.1" /><circle cx="457.06" cy="51.6" r="1.15" fill="#151515"/><circle cx="460.81" cy="51.6" r="1.15" fill="#151515"/><circle cx="464.56" cy="51.6" r="1.15" fill="#151515"/><circle cx="468.31" cy="51.6" r="1.15" fill="#151515"/><line x1="363.78" y1="59.8" x2="377.91" y2="59.8" stroke="#1a1a1a" stroke-width="1.1" /><line x1="363.78" y1="59.25" x2="363.78" y2="62.3" stroke="#1a1a1a" stroke-width="1.1" /><circle cx="368.97" cy="57.4" r="1.15" fill="#151515"/><circle cx="372.72" cy="57.4" r="1.15" fill="#151515"/><line x1="420.3" y1="59.8" x2="462.69" y2="59.8" stroke="#1a1a1a" stroke-width="1.1" /><line x1="420.3" y1="59.25" x2="420.3" y2="62.3" stroke="#1a1a1a" stroke-width="1.1" /><circle cx="439.62" cy="57.4" r="1.15" fill="#151515"/><circle cx="443.37" cy="57.4" r="1.15" fill="#151515"/><line x1="462.69" y1="59.8" x2="505.08" y2="59.8" stroke="#1a1a1a" stroke-width="1.1" /><line x1="462.69" y1="59.25" x2="462.69" y2="61.3" stroke="#1a1a1a" stroke-width="1.1" /><circle cx="478.26" cy="57.4" r="1.15" fill="#151515"/><circle cx="482.01" cy="57.4" r="1.15" fill="#151515"/><circle cx="485.76" cy="57.4" r="1.15" fill="#151515"/><circle cx="489.51" cy="57.4" r="1.15" fill="#151515"/><line x1="434.43" y1="65.3" x2="462.69" y2="65.3" stroke="#1a1a1a" stroke-width="1.1" /><line x1="434.43" y1="64.75" x2="434.43" y2="73.8" stroke="#1a1a1a" stroke-width="1.1" /><line x1="462.69" y1="64.75" x2="462.69" y2="68.3" stroke="#1a1a1a" stroke-width="1.1" /><circle cx="446.68" cy="62.9" r="1.15" fill="#151515"/><circle cx="450.43" cy="62.9" r="1.15" fill="#151515"/><line x1="448.56" y1="70.7" x2="462.69" y2="70.7" stroke="#1a1a1a" stroke-width="1.1" /><line x1="448.56" y1="70.15" x2="448.56" y2="73.2" stroke="#1a1a1a" stroke-width="1.1" /><line x1="462.69" y1="70.15" x2="462.69" y2="73.2" stroke="#1a1a1a" stroke-width="1.1" /><circle cx="450" cy="68.3" r="1.15" fill="#151515"/><circle cx="453.75" cy="68.3" r="1.15" fill="#151515"/><circle cx="457.5" cy="68.3" r="1.15" fill="#151515"/><circle cx="461.25" cy="68.3" r="1.15" fill="#151515"/><line x1="476.82" y1="70.9" x2="490.95" y2="70.9" stroke="#1a1a1a" stroke-width="1.1" /><line x1="476.82" y1="70.35" x2="476.82" y2="72.4" stroke="#1a1a1a" stroke-width="1.1" /><line x1="490.95" y1="70.35" x2="490.95" y2="72.4" stroke="#1a1a1a" stroke-width="1.1" /><circle cx="480.13" cy="68.5" r="1.15" fill="#151515"/><circle cx="483.88" cy="68.5" r="1.15" fill="#151515"/><circle cx="487.63" cy="68.5" r="1.15" fill="#151515"/><line x1="476.82" y1="77" x2="505.08" y2="77" stroke="#1a1a1a" stroke-width="1.1" /><line x1="476.82" y1="76.45" x2="476.82" y2="79" stroke="#1a1a1a" stroke-width="1.1" /><circle cx="485.32" cy="74.6" r="1.15" fill="#151515"/><circle cx="489.07" cy="74.6" r="1.15" fill="#151515"/><circle cx="492.82" cy="74.6" r="1.15" fill="#151515"/><circle cx="496.57" cy="74.6" r="1.15" fill="#151515"/><line x1="490.95" y1="85.7" x2="505.08" y2="85.7" stroke="#1a1a1a" stroke-width="1.1" /><line x1="490.95" y1="85.15" x2="490.95" y2="87.2" stroke="#1a1a1a" stroke-width="1.1" /><circle cx="492.39" cy="83.3" r="1.15" fill="#151515"/><circle cx="496.14" cy="83.3" r="1.15" fill="#151515"/><circle cx="499.89" cy="83.3" r="1.15" fill="#151515"/><circle cx="503.64" cy="83.3" r="1.15" fill="#151515"/><text x="299.5" y="183.3" font-size="12" text-anchor="start" font-weight="bold" fill="#000" >D</text><rect x="345.3" y="184.24" width="12.8" height="2.22" fill="#72b14e" /><rect x="345.3" y="186.46" width="12.8" height="16.3" fill="#2a4c8c" /><rect x="345.3" y="202.75" width="12.8" height="92.35" fill="#a8082f" /><line x1="351.7" y1="200.87" x2="351.7" y2="203.75" stroke="#111" stroke-width="1" /><line x1="348.95" y1="200.87" x2="354.45" y2="200.87" stroke="#111" stroke-width="1" /><line x1="351.7" y1="184.68" x2="351.7" y2="185.74" stroke="#111" stroke-width="1" /><line x1="348.95" y1="184.68" x2="354.45" y2="184.68" stroke="#111" stroke-width="1" /><rect x="364.67" y="184.24" width="12.8" height="1.33" fill="#72b14e" /><rect x="364.67" y="185.57" width="12.8" height="34.7" fill="#2a4c8c" /><rect x="364.67" y="220.27" width="12.8" height="74.83" fill="#a8082f" /><line x1="371.07" y1="216.39" x2="371.07" y2="221.27" stroke="#111" stroke-width="1" /><line x1="368.32" y1="216.39" x2="373.82" y2="216.39" stroke="#111" stroke-width="1" /><line x1="371.07" y1="182.91" x2="371.07" y2="185.74" stroke="#111" stroke-width="1" /><line x1="368.32" y1="182.91" x2="373.82" y2="182.91" stroke="#111" stroke-width="1" /><rect x="384.04" y="184.24" width="12.8" height="2.22" fill="#72b14e" /><rect x="384.04" y="186.46" width="12.8" height="19.4" fill="#2a4c8c" /><rect x="384.04" y="205.86" width="12.8" height="89.24" fill="#a8082f" /><line x1="390.44" y1="203.53" x2="390.44" y2="206.86" stroke="#111" stroke-width="1" /><line x1="387.69" y1="203.53" x2="393.19" y2="203.53" stroke="#111" stroke-width="1" /><line x1="390.44" y1="184.02" x2="390.44" y2="185.74" stroke="#111" stroke-width="1" /><line x1="387.69" y1="184.02" x2="393.19" y2="184.02" stroke="#111" stroke-width="1" /><rect x="403.41" y="184.24" width="12.8" height="2.22" fill="#72b14e" /><rect x="403.41" y="186.46" width="12.8" height="20.51" fill="#2a4c8c" /><rect x="403.41" y="206.97" width="12.8" height="88.13" fill="#a8082f" /><line x1="409.81" y1="204.19" x2="409.81" y2="207.97" stroke="#111" stroke-width="1" /><line x1="407.06" y1="204.19" x2="412.56" y2="204.19" stroke="#111" stroke-width="1" /><line x1="409.81" y1="180.69" x2="409.81" y2="185.74" stroke="#111" stroke-width="1" /><line x1="407.06" y1="180.69" x2="412.56" y2="180.69" stroke="#111" stroke-width="1" /><rect x="422.78" y="184.24" width="12.8" height="1.66" fill="#72b14e" /><rect x="422.78" y="185.9" width="12.8" height="20.51" fill="#2a4c8c" /><rect x="422.78" y="206.41" width="12.8" height="88.69" fill="#a8082f" /><line x1="429.18" y1="201.42" x2="429.18" y2="207.41" stroke="#111" stroke-width="1" /><line x1="426.43" y1="201.42" x2="431.93" y2="201.42" stroke="#111" stroke-width="1" /><line x1="429.18" y1="180.69" x2="429.18" y2="185.74" stroke="#111" stroke-width="1" /><line x1="426.43" y1="180.69" x2="431.93" y2="180.69" stroke="#111" stroke-width="1" /><rect x="442.15" y="184.24" width="12.8" height="1.66" fill="#72b14e" /><rect x="442.15" y="185.9" width="12.8" height="31.6" fill="#2a4c8c" /><rect x="442.15" y="217.5" width="12.8" height="77.6" fill="#a8082f" /><line x1="448.55" y1="210.51" x2="448.55" y2="218.5" stroke="#111" stroke-width="1" /><line x1="445.8" y1="210.51" x2="451.3" y2="210.51" stroke="#111" stroke-width="1" /><line x1="448.55" y1="180.69" x2="448.55" y2="185.74" stroke="#111" stroke-width="1" /><line x1="445.8" y1="180.69" x2="451.3" y2="180.69" stroke="#111" stroke-width="1" /><rect x="461.52" y="184.24" width="12.8" height="2.22" fill="#72b14e" /><rect x="461.52" y="186.46" width="12.8" height="3.77" fill="#2a4c8c" /><rect x="461.52" y="190.23" width="12.8" height="104.87" fill="#a8082f" /><line x1="467.92" y1="187.57" x2="467.92" y2="191.23" stroke="#111" stroke-width="1" /><line x1="465.17" y1="187.57" x2="470.67" y2="187.57" stroke="#111" stroke-width="1" /><line x1="467.92" y1="179.92" x2="467.92" y2="185.74" stroke="#111" stroke-width="1" /><line x1="465.17" y1="179.92" x2="470.67" y2="179.92" stroke="#111" stroke-width="1" /><rect x="480.89" y="184.24" width="12.8" height="0.78" fill="#72b14e" /><rect x="480.89" y="185.02" width="12.8" height="0.55" fill="#2a4c8c" /><rect x="480.89" y="185.57" width="12.8" height="109.53" fill="#a8082f" /><line x1="487.29" y1="185.02" x2="487.29" y2="186.57" stroke="#111" stroke-width="1" /><line x1="484.54" y1="185.02" x2="490.04" y2="185.02" stroke="#111" stroke-width="1" /><line x1="487.29" y1="182.58" x2="487.29" y2="185.74" stroke="#111" stroke-width="1" /><line x1="484.54" y1="182.58" x2="490.04" y2="182.58" stroke="#111" stroke-width="1" /><line x1="342.6" y1="181.2" x2="342.6" y2="295.6" stroke="#111" stroke-width="1.1" /><line x1="342.1" y1="295.1" x2="503.4" y2="295.1" stroke="#111" stroke-width="1.1" /><line x1="339.3" y1="295.1" x2="342.6" y2="295.1" stroke="#111" stroke-width="1" /><text x="336" y="298.5" font-size="7.6" text-anchor="end" fill="#1a1a1a" stroke="#1a1a1a" stroke-width="0.22" >0</text><line x1="339.3" y1="284.01" x2="342.6" y2="284.01" stroke="#111" stroke-width="1" /><text x="336" y="287.41" font-size="7.6" text-anchor="end" fill="#1a1a1a" stroke="#1a1a1a" stroke-width="0.22" >10</text><line x1="339.3" y1="272.93" x2="342.6" y2="272.93" stroke="#111" stroke-width="1" /><text x="336" y="276.33" font-size="7.6" text-anchor="end" fill="#1a1a1a" stroke="#1a1a1a" stroke-width="0.22" >20</text><line x1="339.3" y1="261.84" x2="342.6" y2="261.84" stroke="#111" stroke-width="1" /><text x="336" y="265.24" font-size="7.6" text-anchor="end" fill="#1a1a1a" stroke="#1a1a1a" stroke-width="0.22" >30</text><line x1="339.3" y1="250.76" x2="342.6" y2="250.76" stroke="#111" stroke-width="1" /><text x="336" y="254.16" font-size="7.6" text-anchor="end" fill="#1a1a1a" stroke="#1a1a1a" stroke-width="0.22" >40</text><line x1="339.3" y1="239.67" x2="342.6" y2="239.67" stroke="#111" stroke-width="1" /><text x="336" y="243.07" font-size="7.6" text-anchor="end" fill="#1a1a1a" stroke="#1a1a1a" stroke-width="0.22" >50</text><line x1="339.3" y1="228.58" x2="342.6" y2="228.58" stroke="#111" stroke-width="1" /><text x="336" y="231.98" font-size="7.6" text-anchor="end" fill="#1a1a1a" stroke="#1a1a1a" stroke-width="0.22" >60</text><line x1="339.3" y1="217.5" x2="342.6" y2="217.5" stroke="#111" stroke-width="1" /><text x="336" y="220.9" font-size="7.6" text-anchor="end" fill="#1a1a1a" stroke="#1a1a1a" stroke-width="0.22" >70</text><line x1="339.3" y1="206.41" x2="342.6" y2="206.41" stroke="#111" stroke-width="1" /><text x="336" y="209.81" font-size="7.6" text-anchor="end" fill="#1a1a1a" stroke="#1a1a1a" stroke-width="0.22" >80</text><line x1="339.3" y1="195.33" x2="342.6" y2="195.33" stroke="#111" stroke-width="1" /><text x="336" y="198.73" font-size="7.6" text-anchor="end" fill="#1a1a1a" stroke="#1a1a1a" stroke-width="0.22" >90</text><line x1="339.3" y1="184.24" x2="342.6" y2="184.24" stroke="#111" stroke-width="1" /><text x="336" y="187.64" font-size="7.6" text-anchor="end" fill="#1a1a1a" stroke="#1a1a1a" stroke-width="0.22" >100</text><text x="316.9" y="237" font-size="8.9" text-anchor="middle" transform="rotate(-90 316.9 237)" textLength="100.5" lengthAdjust="spacingAndGlyphs" fill="#1a1a1a" stroke="#1a1a1a" stroke-width="0.22" >Relative contribution (%)</text><text x="336.2" y="307" font-size="8.3" text-anchor="end" textLength="17.4" lengthAdjust="spacingAndGlyphs" fill="#1a1a1a" stroke="#1a1a1a" stroke-width="0.22" >Age:</text><text x="351.7" y="307" font-size="8" text-anchor="middle" fill="#1a1a1a" stroke="#1a1a1a" stroke-width="0.22" >3 m</text><text x="371.07" y="307" font-size="8" text-anchor="middle" fill="#1a1a1a" stroke="#1a1a1a" stroke-width="0.22" >MB</text><text x="390.44" y="307" font-size="8" text-anchor="middle" fill="#1a1a1a" stroke="#1a1a1a" stroke-width="0.22" >3 m</text><text x="409.81" y="307" font-size="8" text-anchor="middle" fill="#1a1a1a" stroke="#1a1a1a" stroke-width="0.22" >MB</text><text x="429.18" y="307" font-size="8" text-anchor="middle" fill="#1a1a1a" stroke="#1a1a1a" stroke-width="0.22" >3 m</text><text x="448.55" y="307" font-size="8" text-anchor="middle" fill="#1a1a1a" stroke="#1a1a1a" stroke-width="0.22" >MB</text><text x="467.92" y="307" font-size="8" text-anchor="middle" fill="#1a1a1a" stroke="#1a1a1a" stroke-width="0.22" >3 m</text><text x="487.29" y="307" font-size="8" text-anchor="middle" fill="#1a1a1a" stroke="#1a1a1a" stroke-width="0.22" >MB</text><line x1="345.3" y1="310.7" x2="377.47" y2="310.7" stroke="#111" stroke-width="1.1" /><text x="361.38" y="321" font-size="8.3" text-anchor="middle" fill="#1a1a1a" stroke="#1a1a1a" stroke-width="0.22" >WT</text><line x1="384.04" y1="310.7" x2="416.21" y2="310.7" stroke="#111" stroke-width="1.1" /><text x="400.12" y="321" font-size="8.3" text-anchor="middle" font-style="italic" fill="#1a1a1a" stroke="#1a1a1a" stroke-width="0.22" >Xpc</text><line x1="422.78" y1="310.7" x2="454.95" y2="310.7" stroke="#111" stroke-width="1.1" /><text x="438.87" y="321" font-size="8.3" text-anchor="middle" font-style="italic" fill="#1a1a1a" stroke="#1a1a1a" stroke-width="0.22" >Rev1</text><line x1="461.52" y1="310.7" x2="493.69" y2="310.7" stroke="#111" stroke-width="1.1" /><text x="477.61" y="321" font-size="8.3" text-anchor="middle" font-style="italic" fill="#1a1a1a" stroke="#1a1a1a" stroke-width="0.22" >Rev1Xpc</text><rect x="350.8" y="329.2" width="6.5" height="3.5" fill="#a8082f" /><text x="360.4" y="333.1" font-size="7.7" text-anchor="start" textLength="44.6" lengthAdjust="spacingAndGlyphs" fill="#1a1a1a" stroke="#1a1a1a" stroke-width="0.22" >Lymphocytes</text><rect x="410.4" y="329.2" width="6.5" height="3.5" fill="#2a4c8c" /><text x="420" y="333.1" font-size="7.7" text-anchor="start" textLength="39.2" lengthAdjust="spacingAndGlyphs" fill="#1a1a1a" stroke="#1a1a1a" stroke-width="0.22" >Neutrophils</text><rect x="465.8" y="329.2" width="6.5" height="3.5" fill="#72b14e" /><text x="475.4" y="333.1" font-size="7.7" text-anchor="start" textLength="23.2" lengthAdjust="spacingAndGlyphs" fill="#1a1a1a" stroke="#1a1a1a" stroke-width="0.22" >Others</text><text x="7.4" y="415.7" font-size="12.4" text-anchor="start" font-weight="bold" fill="#000" >E</text><text x="126.9" y="417.7" font-size="9.7" text-anchor="start" textLength="42" lengthAdjust="spacingAndGlyphs" fill="#1a1a1a" stroke="#1a1a1a" stroke-width="0.22" >Fetal liver</text><rect x="57.9" y="452.5" width="12.6" height="55.9" fill="#a8082f" /><line x1="64.2" y1="435.8" x2="64.2" y2="453" stroke="#a8082f" stroke-width="1" /><line x1="61.7" y1="435.8" x2="66.7" y2="435.8" stroke="#a8082f" stroke-width="1" /><text x="68.1" y="515.6" font-size="8.4" text-anchor="end" font-style="italic" transform="rotate(-45 68.1 515.6)" fill="#1a1a1a" stroke="#1a1a1a" stroke-width="0.22" >WT</text><rect x="72.2" y="479.8" width="12.6" height="28.6" fill="#2a4c8c" /><line x1="78.5" y1="473" x2="78.5" y2="480.3" stroke="#2a4c8c" stroke-width="1" /><line x1="76" y1="473" x2="81" y2="473" stroke="#2a4c8c" stroke-width="1" /><text x="82.4" y="515.6" font-size="8.4" text-anchor="end" font-style="italic" transform="rotate(-45 82.4 515.6)" fill="#1a1a1a" stroke="#1a1a1a" stroke-width="0.22" >Xpc</text><rect x="86.5" y="469.2" width="12.6" height="39.2" fill="#68ab45" /><line x1="92.8" y1="458.3" x2="92.8" y2="469.7" stroke="#68ab45" stroke-width="1" /><line x1="90.3" y1="458.3" x2="95.3" y2="458.3" stroke="#68ab45" stroke-width="1" /><text x="96.7" y="515.6" font-size="8.4" text-anchor="end" font-style="italic" transform="rotate(-45 96.7 515.6)" fill="#1a1a1a" stroke="#1a1a1a" stroke-width="0.22" >Rev1</text><rect x="100.8" y="496.2" width="12.6" height="12.2" fill="#561d6f" /><line x1="107.1" y1="493.8" x2="107.1" y2="496.7" stroke="#561d6f" stroke-width="1" /><line x1="104.6" y1="493.8" x2="109.6" y2="493.8" stroke="#561d6f" stroke-width="1" /><text x="111" y="515.6" font-size="8.4" text-anchor="end" font-style="italic" transform="rotate(-45 111 515.6)" fill="#1a1a1a" stroke="#1a1a1a" stroke-width="0.22" >Rev1Xpc</text><rect x="120.2" y="499" width="12.6" height="9.4" fill="#a8082f" /><line x1="126.5" y1="495.5" x2="126.5" y2="499.5" stroke="#a8082f" stroke-width="1" /><line x1="124" y1="495.5" x2="129" y2="495.5" stroke="#a8082f" stroke-width="1" /><text x="130.4" y="515.6" font-size="8.4" text-anchor="end" font-style="italic" transform="rotate(-45 130.4 515.6)" fill="#1a1a1a" stroke="#1a1a1a" stroke-width="0.22" >WT</text><rect x="134.4" y="503.6" width="12.6" height="4.8" fill="#2a4c8c" /><line x1="140.7" y1="502.6" x2="140.7" y2="504.1" stroke="#2a4c8c" stroke-width="1" /><line x1="138.2" y1="502.6" x2="143.2" y2="502.6" stroke="#2a4c8c" stroke-width="1" /><text x="144.6" y="515.6" font-size="8.4" text-anchor="end" font-style="italic" transform="rotate(-45 144.6 515.6)" fill="#1a1a1a" stroke="#1a1a1a" stroke-width="0.22" >Xpc</text><rect x="148.6" y="502.5" width="12.6" height="5.9" fill="#68ab45" /><line x1="154.9" y1="501.2" x2="154.9" y2="503" stroke="#68ab45" stroke-width="1" /><line x1="152.4" y1="501.2" x2="157.4" y2="501.2" stroke="#68ab45" stroke-width="1" /><text x="158.8" y="515.6" font-size="8.4" text-anchor="end" font-style="italic" transform="rotate(-45 158.8 515.6)" fill="#1a1a1a" stroke="#1a1a1a" stroke-width="0.22" >Rev1</text><rect x="162.8" y="507.1" width="12.6" height="1.3" fill="#561d6f" /><line x1="169.1" y1="506.4" x2="169.1" y2="507.6" stroke="#561d6f" stroke-width="1" /><line x1="166.6" y1="506.4" x2="171.6" y2="506.4" stroke="#561d6f" stroke-width="1" /><text x="173" y="515.6" font-size="8.4" text-anchor="end" font-style="italic" transform="rotate(-45 173 515.6)" fill="#1a1a1a" stroke="#1a1a1a" stroke-width="0.22" >Rev1Xpc</text><rect x="182.2" y="496.3" width="12.6" height="12.1" fill="#a8082f" /><line x1="188.5" y1="493.7" x2="188.5" y2="496.8" stroke="#a8082f" stroke-width="1" /><line x1="186" y1="493.7" x2="191" y2="493.7" stroke="#a8082f" stroke-width="1" /><text x="192.4" y="515.6" font-size="8.4" text-anchor="end" font-style="italic" transform="rotate(-45 192.4 515.6)" fill="#1a1a1a" stroke="#1a1a1a" stroke-width="0.22" >WT</text><rect x="196.5" y="503.1" width="12.6" height="5.3" fill="#2a4c8c" /><line x1="202.8" y1="502.2" x2="202.8" y2="503.6" stroke="#2a4c8c" stroke-width="1" /><line x1="200.3" y1="502.2" x2="205.3" y2="502.2" stroke="#2a4c8c" stroke-width="1" /><text x="206.7" y="515.6" font-size="8.4" text-anchor="end" font-style="italic" transform="rotate(-45 206.7 515.6)" fill="#1a1a1a" stroke="#1a1a1a" stroke-width="0.22" >Xpc</text><rect x="210.8" y="501.7" width="12.6" height="6.7" fill="#68ab45" /><line x1="217.1" y1="499.6" x2="217.1" y2="502.2" stroke="#68ab45" stroke-width="1" /><line x1="214.6" y1="499.6" x2="219.6" y2="499.6" stroke="#68ab45" stroke-width="1" /><text x="221" y="515.6" font-size="8.4" text-anchor="end" font-style="italic" transform="rotate(-45 221 515.6)" fill="#1a1a1a" stroke="#1a1a1a" stroke-width="0.22" >Rev1</text><rect x="225.1" y="506.6" width="12.6" height="1.8" fill="#561d6f" /><line x1="231.4" y1="505.9" x2="231.4" y2="507.1" stroke="#561d6f" stroke-width="1" /><line x1="228.9" y1="505.9" x2="233.9" y2="505.9" stroke="#561d6f" stroke-width="1" /><text x="235.3" y="515.6" font-size="8.4" text-anchor="end" font-style="italic" transform="rotate(-45 235.3 515.6)" fill="#1a1a1a" stroke="#1a1a1a" stroke-width="0.22" >Rev1Xpc</text><line x1="54" y1="427" x2="54" y2="508.9" stroke="#111" stroke-width="1.1" /><line x1="53.5" y1="508.4" x2="241.9" y2="508.4" stroke="#111" stroke-width="1.1" /><line x1="50.2" y1="508.4" x2="54" y2="508.4" stroke="#111" stroke-width="1" /><text x="46.9" y="512" font-size="8" text-anchor="end" fill="#1a1a1a" stroke="#1a1a1a" stroke-width="0.22" >0</text><line x1="50.2" y1="482.25" x2="54" y2="482.25" stroke="#111" stroke-width="1" /><text x="46.9" y="485.85" font-size="8" text-anchor="end" fill="#1a1a1a" stroke="#1a1a1a" stroke-width="0.22" >0.5</text><line x1="50.2" y1="456.1" x2="54" y2="456.1" stroke="#111" stroke-width="1" /><text x="46.9" y="459.7" font-size="8" text-anchor="end" fill="#1a1a1a" stroke="#1a1a1a" stroke-width="0.22" >1.0</text><line x1="50.2" y1="429.95" x2="54" y2="429.95" stroke="#111" stroke-width="1" /><text x="46.9" y="433.55" font-size="8" text-anchor="end" fill="#1a1a1a" stroke="#1a1a1a" stroke-width="0.22" >1.5</text><text x="30.8" y="467" font-size="9.4" text-anchor="middle" transform="rotate(-90 30.8 467)" textLength="42.5" lengthAdjust="spacingAndGlyphs" fill="#1a1a1a" stroke="#1a1a1a" stroke-width="0.22" >% of MNCs</text><line x1="64.2" y1="429.3" x2="107.1" y2="429.3" stroke="#1a1a1a" stroke-width="1.1" /><line x1="64.2" y1="428.75" x2="64.2" y2="431.8" stroke="#1a1a1a" stroke-width="1.1" /><line x1="107.1" y1="428.75" x2="107.1" y2="431.8" stroke="#1a1a1a" stroke-width="1.1" /><circle cx="85.65" cy="426.9" r="1.15" fill="#151515"/><line x1="126.5" y1="474.8" x2="169.1" y2="474.8" stroke="#1a1a1a" stroke-width="1.1" /><line x1="126.5" y1="474.25" x2="126.5" y2="489.8" stroke="#1a1a1a" stroke-width="1.1" /><line x1="169.1" y1="474.25" x2="169.1" y2="488.8" stroke="#1a1a1a" stroke-width="1.1" /><circle cx="147.8" cy="472.4" r="1.15" fill="#151515"/><line x1="140.7" y1="482.1" x2="169.1" y2="482.1" stroke="#1a1a1a" stroke-width="1.1" /><line x1="140.7" y1="481.55" x2="140.7" y2="489.1" stroke="#1a1a1a" stroke-width="1.1" /><circle cx="153.03" cy="479.7" r="1.15" fill="#151515"/><circle cx="156.78" cy="479.7" r="1.15" fill="#151515"/><line x1="154.9" y1="488.3" x2="169.1" y2="488.3" stroke="#1a1a1a" stroke-width="1.1" /><line x1="154.9" y1="487.75" x2="154.9" y2="489.8" stroke="#1a1a1a" stroke-width="1.1" /><circle cx="162" cy="485.9" r="1.15" fill="#151515"/><line x1="188.5" y1="474.8" x2="231.4" y2="474.8" stroke="#1a1a1a" stroke-width="1.1" /><line x1="188.5" y1="474.25" x2="188.5" y2="489.8" stroke="#1a1a1a" stroke-width="1.1" /><line x1="231.4" y1="474.25" x2="231.4" y2="488.8" stroke="#1a1a1a" stroke-width="1.1" /><circle cx="209.95" cy="472.4" r="1.15" fill="#151515"/><line x1="202.8" y1="482.1" x2="231.4" y2="482.1" stroke="#1a1a1a" stroke-width="1.1" /><line x1="202.8" y1="481.55" x2="202.8" y2="489.1" stroke="#1a1a1a" stroke-width="1.1" /><circle cx="215.23" cy="479.7" r="1.15" fill="#151515"/><circle cx="218.98" cy="479.7" r="1.15" fill="#151515"/><line x1="217.1" y1="488.3" x2="231.4" y2="488.3" stroke="#1a1a1a" stroke-width="1.1" /><line x1="217.1" y1="487.75" x2="217.1" y2="489.8" stroke="#1a1a1a" stroke-width="1.1" /><circle cx="224.25" cy="485.9" r="1.15" fill="#151515"/><line x1="58.3" y1="541.6" x2="113.1" y2="541.6" stroke="#111" stroke-width="1.1" /><line x1="120.2" y1="541.6" x2="176" y2="541.6" stroke="#111" stroke-width="1.1" /><line x1="181.4" y1="541.6" x2="237.1" y2="541.6" stroke="#111" stroke-width="1.1" /><text x="85.6" y="553.2" font-size="8.2" text-anchor="middle" fill="#1a1a1a" stroke="#1a1a1a" stroke-width="0.22" >LSK</text><text x="148.1" y="553.2" font-size="8.2" text-anchor="middle" textLength="55.8" lengthAdjust="spacingAndGlyphs" fill="#1a1a1a" stroke="#1a1a1a" stroke-width="0.22" >Long-term HSC</text><text x="210" y="553.2" font-size="8.2" text-anchor="middle" textLength="57.3" lengthAdjust="spacingAndGlyphs" fill="#1a1a1a" stroke="#1a1a1a" stroke-width="0.22" >Short-term HSC</text><text x="329.6" y="420.6" font-size="9.5" text-anchor="start" textLength="15.3" lengthAdjust="spacingAndGlyphs" fill="#1a1a1a" stroke="#1a1a1a" stroke-width="0.22" >2 w</text><line x1="300.4" y1="427.3" x2="300.4" y2="466.2" stroke="#111" stroke-width="1.1" /><line x1="297.4" y1="466.2" x2="300.4" y2="466.2" stroke="#111" stroke-width="1" /><line x1="300.4" y1="471.8" x2="300.4" y2="508.7" stroke="#111" stroke-width="1.1" /><line x1="297.4" y1="471.8" x2="300.4" y2="471.8" stroke="#111" stroke-width="1" /><line x1="299.9" y1="508.2" x2="373.4" y2="508.2" stroke="#111" stroke-width="1.1" /><line x1="297.1" y1="430.4" x2="300.4" y2="430.4" stroke="#111" stroke-width="1" /><text x="292.8" y="434" font-size="8" text-anchor="end" fill="#1a1a1a" stroke="#1a1a1a" stroke-width="0.22" >0.050</text><line x1="297.1" y1="450.4" x2="300.4" y2="450.4" stroke="#111" stroke-width="1" /><text x="292.8" y="454" font-size="8" text-anchor="end" fill="#1a1a1a" stroke="#1a1a1a" stroke-width="0.22" >0.025</text><line x1="297.1" y1="472" x2="300.4" y2="472" stroke="#111" stroke-width="1" /><text x="293.1" y="475.6" font-size="8" text-anchor="end" fill="#1a1a1a" stroke="#1a1a1a" stroke-width="0.22" >0.0050</text><line x1="297.1" y1="490.1" x2="300.4" y2="490.1" stroke="#111" stroke-width="1" /><text x="293.1" y="493.7" font-size="8" text-anchor="end" fill="#1a1a1a" stroke="#1a1a1a" stroke-width="0.22" >0.0025</text><line x1="297.1" y1="508.2" x2="300.4" y2="508.2" stroke="#111" stroke-width="1" /><text x="293.1" y="511.8" font-size="8" text-anchor="end" fill="#1a1a1a" stroke="#1a1a1a" stroke-width="0.22" >0</text><text x="264.1" y="467.1" font-size="9.6" text-anchor="middle" transform="rotate(-90 264.1 467.1)" textLength="43.3" lengthAdjust="spacingAndGlyphs" fill="#1a1a1a" stroke="#1a1a1a" stroke-width="0.22" >% of MNCs</text><rect x="303.9" y="441.8" width="13.9" height="23.8" fill="#2a4c8c" /><rect x="303.9" y="472.4" width="13.9" height="35.8" fill="#2a4c8c" /><line x1="310.85" y1="437.3" x2="310.85" y2="442.3" stroke="#2a4c8c" stroke-width="1" /><line x1="307.85" y1="437.3" x2="313.85" y2="437.3" stroke="#2a4c8c" stroke-width="1" /><rect x="319.6" y="497.7" width="13.9" height="10.5" fill="#561d6f" /><line x1="326.55" y1="495" x2="326.55" y2="498.2" stroke="#561d6f" stroke-width="1" /><line x1="323.55" y1="495" x2="329.55" y2="495" stroke="#561d6f" stroke-width="1" /><rect x="340.4" y="479" width="14.2" height="29.2" fill="#2a4c8c" /><line x1="347.5" y1="476.5" x2="347.5" y2="479.5" stroke="#2a4c8c" stroke-width="1" /><line x1="344.5" y1="476.5" x2="350.5" y2="476.5" stroke="#2a4c8c" stroke-width="1" /><rect x="356.4" y="507.2" width="12.1" height="1" fill="#561d6f" /><line x1="310.85" y1="429.6" x2="326.55" y2="429.6" stroke="#1a1a1a" stroke-width="1.1" /><line x1="310.85" y1="429.05" x2="310.85" y2="432.3" stroke="#1a1a1a" stroke-width="1.1" /><line x1="326.55" y1="429.05" x2="326.55" y2="432.3" stroke="#1a1a1a" stroke-width="1.1" /><circle cx="316.83" cy="427.2" r="1.15" fill="#151515"/><circle cx="320.58" cy="427.2" r="1.15" fill="#151515"/><line x1="347.5" y1="469.3" x2="362.5" y2="469.3" stroke="#1a1a1a" stroke-width="1.1" /><line x1="347.5" y1="468.75" x2="347.5" y2="472" stroke="#1a1a1a" stroke-width="1.1" /><line x1="362.5" y1="468.75" x2="362.5" y2="472" stroke="#1a1a1a" stroke-width="1.1" /><circle cx="351.25" cy="466.9" r="1.15" fill="#151515"/><circle cx="355" cy="466.9" r="1.15" fill="#151515"/><circle cx="358.75" cy="466.9" r="1.15" fill="#151515"/><line x1="304.4" y1="541.8" x2="333.4" y2="541.8" stroke="#111" stroke-width="1.1" /><line x1="340.4" y1="541.8" x2="368.5" y2="541.8" stroke="#111" stroke-width="1.1" /><text x="314.15" y="516.6" font-size="7.8" text-anchor="end" font-style="italic" transform="rotate(-45 314.15 516.6)" fill="#1a1a1a" stroke="#1a1a1a" stroke-width="0.22" >Xpc</text><text x="330.35" y="516.8" font-size="7.8" text-anchor="end" font-style="italic" transform="rotate(-45 330.35 516.8)" fill="#1a1a1a" stroke="#1a1a1a" stroke-width="0.22" >Rev1Xpc</text><text x="350.8" y="516.6" font-size="7.8" text-anchor="end" font-style="italic" transform="rotate(-45 350.8 516.6)" fill="#1a1a1a" stroke="#1a1a1a" stroke-width="0.22" >Xpc</text><text x="366.3" y="516.8" font-size="7.8" text-anchor="end" font-style="italic" transform="rotate(-45 366.3 516.8)" fill="#1a1a1a" stroke="#1a1a1a" stroke-width="0.22" >Rev1Xpc</text><text x="318" y="551.8" font-size="8.2" text-anchor="middle" fill="#1a1a1a" stroke="#1a1a1a" stroke-width="0.22" >LSK</text><text x="355" y="552.6" font-size="8.2" text-anchor="middle" fill="#1a1a1a" stroke="#1a1a1a" stroke-width="0.22" >Long-term</text><text x="355" y="562.3" font-size="8.2" text-anchor="middle" fill="#1a1a1a" stroke="#1a1a1a" stroke-width="0.22" >HSC</text><text x="453.1" y="420.8" font-size="9.5" text-anchor="start" textLength="23.8" lengthAdjust="spacingAndGlyphs" fill="#1a1a1a" stroke="#1a1a1a" stroke-width="0.22" >1.5 m</text><line x1="428.3" y1="425.8" x2="428.3" y2="465.4" stroke="#111" stroke-width="1.1" /><line x1="425.3" y1="465.4" x2="428.3" y2="465.4" stroke="#111" stroke-width="1" /><line x1="428.3" y1="471.6" x2="428.3" y2="508.7" stroke="#111" stroke-width="1.1" /><line x1="425.3" y1="471.6" x2="428.3" y2="471.6" stroke="#111" stroke-width="1" /><line x1="427.8" y1="508.2" x2="500.7" y2="508.2" stroke="#111" stroke-width="1.1" /><line x1="425" y1="429.2" x2="428.3" y2="429.2" stroke="#111" stroke-width="1" /><text x="420.7" y="432.8" font-size="8" text-anchor="end" fill="#1a1a1a" stroke="#1a1a1a" stroke-width="0.22" >0.050</text><line x1="425" y1="449.6" x2="428.3" y2="449.6" stroke="#111" stroke-width="1" /><text x="420.7" y="453.2" font-size="8" text-anchor="end" fill="#1a1a1a" stroke="#1a1a1a" stroke-width="0.22" >0.025</text><line x1="425" y1="471.6" x2="428.3" y2="471.6" stroke="#111" stroke-width="1" /><text x="421" y="475.2" font-size="8" text-anchor="end" fill="#1a1a1a" stroke="#1a1a1a" stroke-width="0.22" >0.0050</text><line x1="425" y1="489.9" x2="428.3" y2="489.9" stroke="#111" stroke-width="1" /><text x="421" y="493.5" font-size="8" text-anchor="end" fill="#1a1a1a" stroke="#1a1a1a" stroke-width="0.22" >0.0025</text><line x1="425" y1="508.2" x2="428.3" y2="508.2" stroke="#111" stroke-width="1" /><text x="421" y="511.8" font-size="8" text-anchor="end" fill="#1a1a1a" stroke="#1a1a1a" stroke-width="0.22" >0</text><text x="392.1" y="467.1" font-size="9.6" text-anchor="middle" transform="rotate(-90 392.1 467.1)" textLength="43.3" lengthAdjust="spacingAndGlyphs" fill="#1a1a1a" stroke="#1a1a1a" stroke-width="0.22" >% of MNCs</text><rect x="431.6" y="455" width="13.4" height="9.8" fill="#2a4c8c" /><rect x="431.6" y="472.2" width="13.4" height="36" fill="#2a4c8c" /><line x1="438.3" y1="451.2" x2="438.3" y2="455.5" stroke="#2a4c8c" stroke-width="1" /><line x1="435.3" y1="451.2" x2="441.3" y2="451.2" stroke="#2a4c8c" stroke-width="1" /><rect x="447.2" y="498.5" width="13.7" height="9.7" fill="#561d6f" /><line x1="454.05" y1="490.2" x2="454.05" y2="499" stroke="#561d6f" stroke-width="1" /><line x1="451.05" y1="490.2" x2="457.05" y2="490.2" stroke="#561d6f" stroke-width="1" /><rect x="468.2" y="497" width="13.7" height="11.2" fill="#2a4c8c" /><line x1="475.05" y1="494.6" x2="475.05" y2="497.5" stroke="#2a4c8c" stroke-width="1" /><line x1="472.05" y1="494.6" x2="478.05" y2="494.6" stroke="#2a4c8c" stroke-width="1" /><line x1="438.3" y1="442.7" x2="454.05" y2="442.7" stroke="#1a1a1a" stroke-width="1.1" /><line x1="438.3" y1="442.15" x2="438.3" y2="445.4" stroke="#1a1a1a" stroke-width="1.1" /><line x1="454.05" y1="442.15" x2="454.05" y2="445.4" stroke="#1a1a1a" stroke-width="1.1" /><circle cx="444.3" cy="440.3" r="1.15" fill="#151515"/><circle cx="448.05" cy="440.3" r="1.15" fill="#151515"/><line x1="475.05" y1="486.8" x2="491" y2="486.8" stroke="#1a1a1a" stroke-width="1.1" /><line x1="475.05" y1="486.25" x2="475.05" y2="489.5" stroke="#1a1a1a" stroke-width="1.1" /><line x1="491" y1="486.25" x2="491" y2="489.5" stroke="#1a1a1a" stroke-width="1.1" /><circle cx="481.15" cy="484.4" r="1.15" fill="#151515"/><circle cx="484.9" cy="484.4" r="1.15" fill="#151515"/><line x1="432" y1="541.8" x2="460.9" y2="541.8" stroke="#111" stroke-width="1.1" /><line x1="468.2" y1="541.8" x2="496.8" y2="541.8" stroke="#111" stroke-width="1.1" /><text x="441.6" y="516.6" font-size="7.8" text-anchor="end" font-style="italic" transform="rotate(-45 441.6 516.6)" fill="#1a1a1a" stroke="#1a1a1a" stroke-width="0.22" >Xpc</text><text x="457.85" y="516.8" font-size="7.8" text-anchor="end" font-style="italic" transform="rotate(-45 457.85 516.8)" fill="#1a1a1a" stroke="#1a1a1a" stroke-width="0.22" >Rev1Xpc</text><text x="478.35" y="516.6" font-size="7.8" text-anchor="end" font-style="italic" transform="rotate(-45 478.35 516.6)" fill="#1a1a1a" stroke="#1a1a1a" stroke-width="0.22" >Xpc</text><text x="494.8" y="516.8" font-size="7.8" text-anchor="end" font-style="italic" transform="rotate(-45 494.8 516.8)" fill="#1a1a1a" stroke="#1a1a1a" stroke-width="0.22" >Rev1Xpc</text><text x="446.8" y="552.8" font-size="8.2" text-anchor="middle" fill="#1a1a1a" stroke="#1a1a1a" stroke-width="0.22" >LSK</text><text x="482.3" y="552.8" font-size="8.2" text-anchor="middle" fill="#1a1a1a" stroke="#1a1a1a" stroke-width="0.22" >Long-term</text><text x="482.3" y="562.5" font-size="8.2" text-anchor="middle" fill="#1a1a1a" stroke="#1a1a1a" stroke-width="0.22" >HSC</text>
</svg>
</body></html>
